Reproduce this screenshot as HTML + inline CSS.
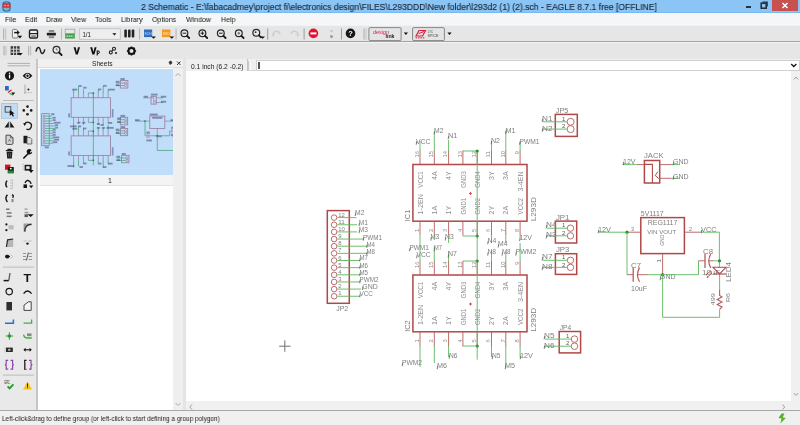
<!DOCTYPE html>
<html><head><meta charset="utf-8">
<style>
*{box-sizing:border-box;margin:0;padding:0}
html,body{width:800px;height:425px;overflow:hidden;background:#f0f0f0;font-family:"Liberation Sans",sans-serif;color:#1e1e1e}
.a{position:absolute}
#title{left:0;top:0;width:800px;height:13px;background:#8bc5f6;border-bottom:1px solid #7ab8f2}
#title .t{left:141px;top:1.6px;font-size:9.3px;color:#1c2733;white-space:nowrap;letter-spacing:0px;transform:scaleX(0.9236);transform-origin:0 0;-webkit-text-stroke:0.15px #1c2733}
#menu{left:0;top:13px;width:800px;height:12px;background:#f5f6f7}
#menu span{position:absolute;top:2px;font-size:7.8px;color:#111;white-space:nowrap;transform:scaleX(0.9);transform-origin:0 0}
.tb{left:0;width:800px;height:17px;background:#e6e6e6;border-top:1px solid #f2f2f2;border-bottom:1px solid #a4a4a4}
#lp{left:0;top:59px;width:35.5px;height:352px;background:#e9e9e9}
#lpstrip{left:35.6px;top:59px;width:2.6px;height:352px;background:#c6c6c6}
#sheets{left:38.2px;top:59px;width:147.5px;height:352px;background:#fff}
#shhead{left:38.2px;top:59px;width:147.8px;height:9px;background:#f0f0f0;border-bottom:1px solid #dcdcdc}
#shthumb{left:40px;top:69px;width:133px;height:106.6px;background:#c0ddf9;overflow:hidden}
#shlabel{left:40px;top:175px;width:133px;height:11px;background:#f4f4f4;border-bottom:1px solid #e2e2e2}
#shscroll{left:173px;top:68px;width:10px;height:343px;background:#efefef}
#gap{left:183px;top:59px;width:3px;height:352px;background:#e4e4e4}
#cmd{left:186px;top:59px;width:614px;height:12px;background:#f0f0f0;border-bottom:1px solid #d6d6d6}
#coord{left:186px;top:59px;width:61.5px;height:12px;background:#efefef;border-right:1.2px solid #c4c4c4}
#coord span{position:absolute;left:4.5px;top:3.6px;font-size:6.7px;white-space:nowrap;color:#202020}
#input{left:256px;top:60px;width:544px;height:11px;background:#fff;border:1px solid #d0d0d0}
#canvas{left:186px;top:71px;width:604.5px;height:330px;background:#fff}
#vscroll{left:790.5px;top:71px;width:10px;height:330px;background:#f0f0f0}
#hscroll{left:186px;top:401.6px;width:604px;height:9px;background:#f0f0f0}
#corner{left:790px;top:401.6px;width:10px;height:9.5px;background:#f0f0f0}
#status{left:0;top:410px;width:800px;height:15px;background:#f0f0f0;border-top:1.5px solid #a8a8a8}
#status span{position:absolute;left:2.3px;top:3.2px;font-size:7.4px;white-space:nowrap;color:#202020;transform:scaleX(0.87);transform-origin:0 0}
svg{position:absolute;left:0;top:0;overflow:visible}
.a span,span.a,svg{will-change:transform}
text{font-family:"Liberation Sans",sans-serif}
</style></head><body>
<div id="title" class="a">
 <svg width="14" height="13" style="left:1px;top:0">
  <rect x="1.5" y="1.5" width="8" height="10" rx="3" fill="#2c4a5a"/>
  <rect x="2.3" y="2.2" width="6.4" height="8.6" rx="2.4" fill="#6fb8d8"/>
  <rect x="1.6" y="3.2" width="7.8" height="4.6" fill="#e0303a"/>
  <circle cx="4" cy="5.5" r="0.8" fill="#ffb0b0"/><circle cx="7" cy="5.5" r="0.8" fill="#ffb0b0"/>
 </svg>
 <span class="a t">2 Schematic - E:\fabacadmey\project fi\electronics design\FILES\L293DDD\New folder\l293d2 (1) (2).sch - EAGLE 8.7.1 free [OFFLINE]</span>
 <div class="a" style="left:745.7px;top:5.6px;width:5.4px;height:2.2px;background:#26313b"></div>
 <svg width="10" height="10" style="left:759px;top:1px"><rect x="2.2" y="2.2" width="5" height="5" fill="none" stroke="#26313b" stroke-width="1.6"/><path d="M3.5 1.2 H8.2 V5.6" fill="none" stroke="#26313b" stroke-width="1.2"/></svg>
 <div class="a" style="left:772px;top:0;width:26px;height:11px;background:#c75050"></div>
 <svg width="12" height="11" style="left:779px;top:0"><path d="M3.5 3 L8.5 8 M8.5 3 L3.5 8" stroke="#fff" stroke-width="1.5"/></svg>
</div>
<div id="menu" class="a">
 <span style="left:4.8px">File</span><span style="left:24.7px">Edit</span><span style="left:45.7px">Draw</span><span style="left:70.5px">View</span><span style="left:95.2px">Tools</span><span style="left:120.5px">Library</span><span style="left:151.9px">Options</span><span style="left:185.6px">Window</span><span style="left:220.6px">Help</span>
</div>
<div class="a tb" style="top:25px"></div>
<div class="a tb" style="top:42px;height:17.5px;border-bottom-color:#7a7a7a"></div>

<div id="lp" class="a"></div>
<div id="lpstrip" class="a"></div>

<svg width="800" height="425" style="left:0;top:0">
<!-- ===== toolbar 1 ===== -->
<g id="tb1">
 <rect x="3" y="28.5" width="1.2" height="11.2" fill="#b4b4b4"/><rect x="5" y="28.5" width="1.2" height="11.2" fill="#c4c4c4"/>
 <!-- open -->
 <path d="M12.4 30.4 Q12.4 29.4 13.4 29.4 H16.2 L18 31.2 V37 Q18 38 17 38 H13.4 Q12.4 38 12.4 37 Z" fill="#f0f0f0" stroke="#7a7a7a" stroke-width="1"/>
 <path d="M14.2 32.6 H18" stroke="#111" stroke-width="1.5"/><path d="M17.2 30.6 L19.8 32.6 L17.2 34.6 Z" fill="#111"/>
 <path d="M17.6 35.8 H22.2 L19.9 38.6 Z" fill="#111"/>
 <!-- save -->
 <rect x="29.5" y="30" width="8" height="8" rx="1.2" fill="#f2f2f2" stroke="#1e1e1e" stroke-width="1.4"/>
 <path d="M29.5 33.6 H37.5" stroke="#1e1e1e" stroke-width="1.2"/><rect x="31.2" y="35.2" width="4.6" height="2" fill="#8a8a8a"/>
 <!-- print -->
 <rect x="48.8" y="30" width="5.4" height="2" fill="#8a8a8a"/><rect x="46.9" y="32.7" width="9" height="2.9" rx="0.6" fill="#1e1e1e"/><rect x="48.8" y="36.2" width="5.4" height="2" fill="#8a8a8a"/>
 <rect x="61" y="28.5" width="1" height="11" fill="#b8b8b8"/>
 <!-- green board -->
 <rect x="65.2" y="29.2" width="9.6" height="4.5" fill="#e8e8e8" stroke="#9a9a9a" stroke-width="0.7"/>
 <rect x="65.2" y="33.7" width="9.6" height="4.8" fill="#3fa04a"/><path d="M66.5 36.2 h7" stroke="#c8f0c8" stroke-width="1.2" stroke-dasharray="1.6 0.6"/>
 <!-- dropdown 1/1 -->
 <rect x="79.7" y="28.7" width="40.6" height="10.6" fill="#eeeeee" stroke="#bdbdbd" stroke-width="0.8"/>
 <text x="82.4" y="37" font-size="7.6" fill="#1a1a1a" textLength="8.6" lengthAdjust="spacingAndGlyphs">1/1</text>
 <path d="M112.4 33.2 H116.4 L114.4 35.6 Z" fill="#111"/>
 <!-- ||| -->
 <g fill="#222"><rect x="124.3" y="29.6" width="2.6" height="8" rx="1"/><rect x="128" y="29.6" width="2.6" height="8" rx="1"/><rect x="131.7" y="29.6" width="2.6" height="8" rx="1"/></g>
 <rect x="139" y="28.5" width="1.1" height="11" fill="#b8b8b8"/>
 <!-- SCH blue -->
 <rect x="144" y="29.5" width="8.2" height="7.6" fill="#2e6fc0"/><text x="144.6" y="34.6" font-size="3.6" fill="#cfe0ff" textLength="7" lengthAdjust="spacingAndGlyphs">SCH</text>
 <path d="M151.2 36.6 H156 L153.6 38.8 Z" fill="#111"/>
 <!-- BRD orange -->
 <rect x="162" y="29.5" width="8.4" height="7.6" fill="#f39a1e"/><text x="162.8" y="34.6" font-size="3.6" fill="#ffe6c0" textLength="7" lengthAdjust="spacingAndGlyphs">BRD</text>
 <path d="M169.4 36.6 H174.2 L171.8 38.8 Z" fill="#111"/>
 <rect x="175.5" y="28.5" width="1.1" height="11" fill="#b8b8b8"/>
 <!-- zooms -->
 <g fill="none" stroke="#262626" stroke-width="1.2">
  <circle cx="184.4" cy="33.2" r="3.4"/><circle cx="202.4" cy="33.2" r="3.4"/><circle cx="220.8" cy="33.2" r="3.4"/><circle cx="238.8" cy="33.2" r="3.4"/><circle cx="256.3" cy="32.8" r="3.4"/>
 </g>
 <g stroke="#1a1a1a" stroke-width="1.8" stroke-linecap="round">
  <path d="M187 35.8 L189.2 38"/><path d="M205 35.8 L207.2 38"/><path d="M223.4 35.8 L225.6 38"/><path d="M241.4 35.8 L243.6 38"/><path d="M258.9 35.4 L261 37.4"/>
 </g>
 <g stroke="#222" stroke-width="1"><path d="M182.6 33.2 H186.2"/><path d="M200.6 33.2 H204.2 M202.4 31.4 V35"/><path d="M219 33.2 H222.6"/></g>
 <circle cx="238.8" cy="33.2" r="1.2" fill="#777"/><circle cx="255.6" cy="32.2" r="0.9" fill="#333"/>
 <path d="M260.2 36.4 H265 L262.6 38.8 Z" fill="#111"/>
 <rect x="267.2" y="28.5" width="1" height="11" fill="#9a9a9a"/>
 <!-- undo redo -->
 <path d="M273 35.5 Q273 31 277 31.2 Q279.5 31.5 280 34" fill="none" stroke="#cfcfcf" stroke-width="1.5"/><path d="M271.4 34 L273.2 37 L275 34 Z" fill="#cfcfcf"/>
 <path d="M298 35.5 Q298 31 294 31.2 Q291.5 31.5 291 34" fill="none" stroke="#cfcfcf" stroke-width="1.5" transform="translate(0,0)"/><path d="M299.6 34 L297.8 37 L296 34 Z" fill="#cfcfcf"/>
 <rect x="303.6" y="28.5" width="1" height="11" fill="#9a9a9a"/>
 <!-- stop -->
 <circle cx="313.4" cy="33.4" r="4.8" fill="#e0142e"/><rect x="310.4" y="32.4" width="6" height="2" fill="#fff"/>
 <circle cx="331.5" cy="31" r="1.2" fill="#c4c4c4"/><circle cx="331.5" cy="36.4" r="1.5" fill="#9c9c9c"/>
 <rect x="341" y="28.5" width="1" height="11" fill="#9a9a9a"/>
 <!-- help -->
 <circle cx="350.5" cy="33.4" r="4.8" fill="#161616"/><text x="348.3" y="36.4" font-size="7.4" font-weight="bold" fill="#fff">?</text>
 <rect x="363.5" y="28.5" width="1.1" height="11.2" fill="#b4b4b4"/><rect x="365.5" y="28.5" width="1.1" height="11.2" fill="#c8c8c8"/>
 <!-- designlink button -->
 <rect x="368.9" y="27.6" width="32.2" height="13" rx="1.2" fill="#e4e4e4" stroke="#7c7c7c" stroke-width="0.9"/>
 <text x="373" y="34.2" font-size="6.2" fill="#d41e46" font-style="italic" textLength="16" lengthAdjust="spacingAndGlyphs">design</text>
 <text x="385.5" y="38.4" font-size="5.2" fill="#1e1e1e" font-weight="bold" textLength="9" lengthAdjust="spacingAndGlyphs">link</text>
 <path d="M403.8 32.6 H408 L405.9 35 Z" fill="#111"/>
 <!-- spice button -->
 <rect x="412.6" y="27.6" width="31.8" height="13" rx="1.2" fill="#e4e4e4" stroke="#7c7c7c" stroke-width="0.9"/>
 <path d="M416 36 L419 30.5 H425.5 L422.5 36 Z" fill="none" stroke="#d0223a" stroke-width="1.2"/><path d="M418.6 33.6 L424 31.5" stroke="#d0223a" stroke-width="1"/>
 <g fill="#d0223a"><rect x="415.6" y="37.3" width="1.5" height="1.1"/><rect x="418" y="37.3" width="1.5" height="1.1"/><rect x="420.4" y="37.3" width="1.5" height="1.1"/><rect x="422.8" y="37.3" width="1.5" height="1.1"/></g>
 <text x="428" y="33" font-size="3.4" fill="#444" textLength="5" lengthAdjust="spacingAndGlyphs">LTC</text>
 <text x="427.5" y="37" font-size="3.6" fill="#444" textLength="11" lengthAdjust="spacingAndGlyphs">SPICE</text>
 <path d="M447.4 32.6 H451.6 L449.5 35 Z" fill="#111"/>
</g>
<!-- ===== toolbar 2 ===== -->
<g id="tb2">
 <rect x="3.4" y="45.8" width="1.2" height="9.6" fill="#b4b4b4"/><rect x="5.4" y="45.8" width="1.2" height="9.6" fill="#c4c4c4"/>
 <!-- grid -->
 <rect x="10.6" y="46.2" width="9" height="8.8" fill="#3a3a3a"/>
 <g stroke="#e6e6e6" stroke-width="0.9"><path d="M13.6 46.2 V55 M16.6 46.2 V55 M10.6 49.2 H19.6 M10.6 52.2 H19.6"/></g>
 <path d="M17.6 53 H22.8 L20.2 55.6 Z" fill="#111"/>
 <rect x="28" y="45.8" width="1.2" height="9.6" fill="#b4b4b4"/><rect x="30" y="45.8" width="1.2" height="9.6" fill="#c4c4c4"/>
 <!-- wave -->
 <path d="M36 51.6 C37 46.2 39.6 46.4 40.4 50.4 C41.2 54.6 43.6 54.8 44.8 49.4" fill="none" stroke="#1e1e1e" stroke-width="1.4"/>
 <!-- magnifier -->
 <circle cx="56.5" cy="49.8" r="3.4" fill="none" stroke="#2a2a2a" stroke-width="1.2"/><path d="M59 52.4 L61.6 55" stroke="#111" stroke-width="1.8" stroke-linecap="round"/><path d="M56.4 48 V50 H58" stroke="#666" stroke-width="0.7" fill="none"/>
 <!-- V -->
 <path d="M73.6 47.2 H75.6 L76.8 52 L78 47.2 H80 L77.8 54.5 H75.8 Z" fill="#111"/>
 <path d="M90.2 47.2 H92.2 L93.4 52 L94.6 47.2 H96.6 L94.4 54.5 H92.4 Z" fill="#111"/>
 <path d="M97.2 50.6 V55.6" stroke="#111" stroke-width="1.1"/><path d="M97.2 51 Q99.4 50.4 99.4 52.2 Q99.4 54 97.2 53.4" fill="none" stroke="#111" stroke-width="1"/>
 <!-- link -->
 <circle cx="110.8" cy="52.4" r="1.5" fill="none" stroke="#222" stroke-width="1.1"/><circle cx="114" cy="48.8" r="1.5" fill="none" stroke="#222" stroke-width="1.1"/><path d="M111.8 51.3 L113 49.9" stroke="#222" stroke-width="1"/>
 <circle cx="116" cy="53" r="1.1" fill="#222"/>
 <!-- gear -->
 <g transform="translate(131.5,51)"><circle r="3" fill="none" stroke="#111" stroke-width="2"/>
  <g stroke="#111" stroke-width="1.6"><path d="M0 -4.6 V-3 M0 3 V4.6 M-4.6 0 H-3 M3 0 H4.6 M-3.2 -3.2 L-2.2 -2.2 M2.2 2.2 L3.2 3.2 M3.2 -3.2 L2.2 -2.2 M-2.2 2.2 L-3.2 3.2"/></g></g>
</g>
<!-- ===== left panel ===== -->
<g id="lpicons">
 <path d="M7.5 63.4 H30 M7.5 65.8 H30" stroke="#a8a8a8" stroke-width="0.9"/>
 <!-- info -->
 <circle cx="9.5" cy="75.8" r="4.6" fill="#161616"/><rect x="8.9" y="74.6" width="1.3" height="3.8" fill="#fff"/><circle cx="9.55" cy="73.2" r="0.75" fill="#fff"/>
 <!-- eye -->
 <path d="M22.6 75.8 Q27.5 69.6 32.4 75.8 Q27.5 82 22.6 75.8 Z" fill="#161616"/><circle cx="27.5" cy="75.8" r="1.7" fill="none" stroke="#fff" stroke-width="1"/>
 <!-- layers -->
 <rect x="5" y="86" width="3.8" height="4.5" fill="#2a6cc4"/><path d="M8 92.5 L11.5 90" stroke="#e0203a" stroke-width="1.4"/><path d="M9.5 93.2 L13 95.2" stroke="#27b04e" stroke-width="1.3"/><path d="M11.2 92.6 H15.2 L13.2 95 Z" fill="#111"/>
 <!-- mark -->
 <path d="M25 84.5 V94" stroke="#9a9a9a" stroke-width="0.8"/><path d="M24 92.6 H32" stroke="#a8a8a8" stroke-width="0.8" stroke-dasharray="1 0.8"/><circle cx="28.4" cy="89.4" r="1" fill="#222"/>
 <rect x="3" y="100" width="31" height="1" fill="#bcbcbc"/>
 <!-- select (highlighted) -->
 <rect x="1.5" y="103.5" width="16" height="14.8" fill="#c3dcf6" stroke="#9cc3ec" stroke-width="0.8"/>
 <rect x="5.2" y="106.6" width="5.6" height="5.6" fill="none" stroke="#5b5b5b" stroke-width="1.1"/><path d="M9.8 110 L9.8 116 L11.4 114.4 L13 116.8 L14 116 L12.6 113.8 L14.6 113.4 Z" fill="#111"/>
 <!-- move -->
 <g fill="#1a1a1a"><circle cx="27.5" cy="106.6" r="1.3"/><circle cx="27.5" cy="114.2" r="1.3"/><circle cx="23.8" cy="110.4" r="1.3"/><circle cx="31.2" cy="110.4" r="1.3"/></g>
 <!-- mirror -->
 <path d="M4.6 127.6 L8.8 121.6 V127.6 Z M14.4 127.6 L10.2 121.6 V127.6 Z" fill="#1a1a1a"/><path d="M9.5 121 V129" stroke="#aaa" stroke-width="0.6"/>
 <!-- rotate -->
 <path d="M24.6 124.2 A3.6 3.6 0 1 1 26.4 129.2" fill="none" stroke="#1a1a1a" stroke-width="1.3"/><path d="M23.2 123 L26.4 123.6 L24.4 126 Z" fill="#1a1a1a"/>
 <!-- copy -->
 <path d="M6 135.2 H10.4 L13 137.8 V143.2 Q13 144.4 11.8 144.4 H7.2 Q6 144.4 6 143.2 Z" fill="#d6d6d6" stroke="#4a4a4a" stroke-width="1"/><path d="M10.4 135.2 V137.8 H13" fill="none" stroke="#4a4a4a" stroke-width="0.8"/><path d="M8.4 141.6 L9.5 139.2 L10.6 141.6" stroke="#555" stroke-width="0.7" fill="none"/>
 <!-- paste -->
 <rect x="23.5" y="135.8" width="4" height="7.5" fill="#1a1a1a"/><path d="M27 137.5 H30 L31.8 139.3 V144 H27 Z" fill="#ddd" stroke="#555" stroke-width="0.8"/>
 <!-- delete -->
 <path d="M5.8 150.5 H13.2 M8 150.2 V149.4 H11 V150.2" stroke="#1e1e1e" stroke-width="1.1" fill="none"/><path d="M6.6 151.6 H12.4 L11.8 158.4 H7.2 Z" fill="#1e1e1e"/><path d="M8.6 153 V157 M10.4 153 V157" stroke="#777" stroke-width="0.6"/>
 <!-- wrench -->
 <path d="M23.8 158 L28.6 153.2" stroke="#111" stroke-width="1.6" stroke-linecap="round"/><path d="M28 153.8 A2.6 2.6 0 1 1 31.6 150.4 L30.2 151.6 L29.8 152.8 L31 152.6 L32.2 151.4 A2.6 2.6 0 0 1 28 153.8 Z" fill="#111"/>
 <!-- replace -->
 <rect x="5" y="164.6" width="5.4" height="5.2" fill="#d8121e"/><rect x="7.8" y="167" width="6" height="6.2" fill="#1e1e1e"/><rect x="7.8" y="170.6" width="6" height="2.6" fill="#1e8a30"/><circle cx="10.8" cy="168.6" r="0.9" fill="#fff"/>
 <!-- change (rect w arrow) -->
 <rect x="24.6" y="164.8" width="7" height="5.8" fill="#1a1a1a"/><rect x="26.2" y="166.3" width="3.4" height="2.6" fill="#f0f0f0"/><path d="M22.6 164.4 h1.4 M22.4 166.8 h1.4 M22.6 169.2 h1.4" stroke="#a8a8a8" stroke-width="0.8"/><path d="M28.6 170 H33.6 L31.1 173 Z" fill="#111"/>
 <!-- split -->
 <path d="M7 180.6 Q4.6 184 7 187.4" fill="none" stroke="#161616" stroke-width="1.5"/><path d="M10.2 180.2 H13 M10.2 183 H13 M10.2 185.8 H13 M10.2 188.4 H13" stroke="#b6b6b6" stroke-width="0.9"/><path d="M12.6 180 V188.6" stroke="#c4c4c4" stroke-width="0.8"/>
 <!-- swap -->
 <rect x="23.5" y="184.4" width="3.5" height="3.6" fill="#161616"/><path d="M25 183 Q26.5 179.2 29.6 181.2 Q30.8 182 31 184" fill="none" stroke="#161616" stroke-width="1.3"/><path d="M29 185.6 H33.4 L31.2 188.2 Z" fill="#161616"/>
 <!-- row 198 -->
 <path d="M7.4 194.8 Q4.4 198.4 7.4 202" fill="none" stroke="#161616" stroke-width="1.5"/><path d="M12 194.6 Q14.2 195.8 12.6 197.8" fill="none" stroke="#161616" stroke-width="1.4"/><rect x="11.5" y="199" width="2" height="3.2" fill="#888"/>
 <!-- text icons 213 -->
 <g fill="#777"><rect x="6" y="208.5" width="3.6" height="1.5"/><rect x="6.6" y="212.2" width="5" height="1.5"/><rect x="6.6" y="215.6" width="5" height="1.5"/></g>
 <g fill="#999"><rect x="24.5" y="208.5" width="3" height="1.3"/><rect x="24.5" y="211.8" width="4" height="1.6"/></g><rect x="24.5" y="214.3" width="3.4" height="2.8" fill="#555"/><path d="M27.5 214.2 H33.8 L30.6 217 Z" fill="#111"/>
 <!-- row 227.5 -->
 <circle cx="6.4" cy="224.4" r="1.1" fill="#161616"/><circle cx="6.4" cy="230.2" r="1.1" fill="#161616"/><rect x="8.6" y="225.2" width="5" height="4.2" fill="#bcbcbc"/>
 <path d="M23.6 223.6 H31.5 V225.4 A5 5 0 0 0 25.6 231.6 H23.6 Z" fill="#9a9a9a"/><path d="M25 231.6 A6 6 0 0 1 31.5 224.4" fill="none" stroke="#2a2a2a" stroke-width="1.2"/>
 <!-- row 242 -->
 <path d="M6.4 247 L7.4 239.8 L13.2 239 V247 Z" fill="#b6b6b6"/><path d="M6.4 247 L7.6 239.8 L13.2 239" fill="none" stroke="#2a2a2a" stroke-width="1.2"/>
 <path d="M23.6 241 H26.5 M28.4 241 H31.5" stroke="#b0b0b0" stroke-width="0.8"/><circle cx="27.5" cy="243.6" r="1.2" fill="#161616"/>
 <!-- row 257 -->
 <circle cx="6.8" cy="256.6" r="1.8" fill="#161616"/><path d="M7.6 254.2 L10.2 256.6 L7.6 259" fill="#161616"/><path d="M10.6 254.6 L12.6 256.6 L10.6 258.6" fill="none" stroke="#bbb" stroke-width="1"/>
 <path d="M23 253.5 H26 M23 256.5 H26 M23 259.5 H26 M28.6 253.5 H32 M28.6 256.5 H32 M28.6 259.5 H32" stroke="#8a8a8a" stroke-width="0.9"/><path d="M26.4 260.5 L28.4 252.6" stroke="#333" stroke-width="0.8"/>
 <rect x="3" y="266.6" width="31" height="1" fill="#bcbcbc"/>
 <!-- line -->
 <path d="M3.6 280.6 H8.8" stroke="#161616" stroke-width="1.5"/><path d="M8.8 280.4 L10 273" stroke="#5a5a5a" stroke-width="1.3"/>
 <!-- T -->
 <text x="23.4" y="281.6" font-size="10.6" font-family="Liberation Serif" font-weight="bold" fill="#161616" textLength="7.6" lengthAdjust="spacingAndGlyphs">T</text>
 <!-- circle -->
 <circle cx="9.2" cy="291.6" r="3.2" fill="none" stroke="#161616" stroke-width="1.2"/>
 <!-- arc -->
 <path d="M23.6 293.6 Q27.4 288.4 31.6 293.6" fill="none" stroke="#161616" stroke-width="1.3"/>
 <!-- rect -->
 <rect x="6.4" y="302" width="5.6" height="8.4" fill="#2e2e2e"/>
 <!-- polygon -->
 <path d="M24 310.4 V305.2 L28.4 301.8 H31.2 V310.4 Z" fill="#f4f4f4" stroke="#333" stroke-width="0.9"/>
 <!-- bus (blue) -->
 <path d="M5 323.2 H13.4 V319.4" fill="none" stroke="#2870c8" stroke-width="1.5"/>
 <!-- net (green) -->
 <path d="M23.6 323.2 H31.6 V319.4" fill="none" stroke="#40b040" stroke-width="1.3"/>
 <!-- junction -->
 <path d="M5.6 336 H13.2 M9.4 332.2 V339.8" stroke="#38a838" stroke-width="1"/><circle cx="9.4" cy="336" r="1.8" fill="#1e9a2e"/>
 <!-- label -->
 <path d="M23.6 334.6 Q24 338 27.6 338 H31.8" fill="none" stroke="#40b040" stroke-width="1.3"/><rect x="27" y="333.4" width="4.5" height="2.8" fill="#888"/>
 <!-- name/value row 350 -->
 <rect x="6" y="347.6" width="6.8" height="4.4" fill="#2a2a2a"/><path d="M5 347 V352.5" stroke="#bbb" stroke-width="0.7"/><rect x="8.2" y="348.8" width="2.2" height="2" fill="#bbb"/>
 <path d="M24.6 349.8 H30.6" stroke="#161616" stroke-width="1.1"/><path d="M23.4 349.8 L25.6 347.8 V351.8 Z M31.8 349.8 L29.6 347.8 V351.8 Z" fill="#161616"/>
 <!-- purple brackets -->
 <path d="M8.2 360.4 H6.2 V364 L5.4 364.8 L6.2 365.6 V369.2 H8.2" fill="none" stroke="#8e44ad" stroke-width="1.2"/><path d="M10.6 360.4 H12.6 V364 L13.4 364.8 L12.6 365.6 V369.2 H10.6" fill="none" stroke="#8e44ad" stroke-width="1.2"/>
 <path d="M26.6 360.4 H24.6 V369.2 H26.6" fill="none" stroke="#222" stroke-width="1.1"/><path d="M29 360.4 H31 V364 L31.8 364.8 L31 365.6 V369.2 H29" fill="none" stroke="#8e44ad" stroke-width="1.2"/><path d="M25.2 362 V368" stroke="#8e44ad" stroke-width="0.9"/>
 <rect x="3" y="374.6" width="31" height="1" fill="#bcbcbc"/>
 <!-- ERC -->
 <text x="4.5" y="384.2" font-size="4.6" fill="#333" textLength="5.5" lengthAdjust="spacingAndGlyphs">ERC</text>
 <path d="M7.6 386.4 L9.6 388.4 L13.4 384.4" fill="none" stroke="#1e9a2e" stroke-width="1.8"/>
 <!-- warning -->
 <path d="M27.5 381.2 L32 389.4 H23 Z" fill="#f5c518"/><rect x="27" y="383.4" width="1" height="3.2" fill="#222"/><rect x="27" y="387.2" width="1" height="1" fill="#222"/>
</g>
</svg>

<div id="sheets" class="a"></div>
<div id="shhead" class="a"><span class="a" style="left:53.5px;top:0.5px;font-size:6.6px;color:#222">Sheets</span>
 <svg width="20" height="9" style="left:128px;top:0"><path d="M2.5 3 l2.5 -1.5 l1.5 2.5 l-2.5 2 z" fill="#333"/><path d="M11 2.5 l3.5 3.5 M14.5 2.5 l-3.5 3.5" stroke="#333" stroke-width="1"/></svg>
</div>
<div id="shthumb" class="a"><svg width="133" height="106" style="left:-40px;top:-69px;overflow:visible"><rect x="71.15" y="97.75" width="39.36" height="19.56" stroke="#9b7d9e" stroke-width="0.828" fill="none"/>
<line x1="73.6" y1="97.75" x2="73.6" y2="92.92" stroke="#9b7d9e" stroke-width="0.7"/>
<line x1="73.6" y1="117.31" x2="73.6" y2="122.32" stroke="#9b7d9e" stroke-width="0.7"/>
<line x1="78.53" y1="97.75" x2="78.53" y2="92.92" stroke="#9b7d9e" stroke-width="0.7"/>
<line x1="78.53" y1="117.31" x2="78.53" y2="122.32" stroke="#9b7d9e" stroke-width="0.7"/>
<line x1="83.47" y1="97.75" x2="83.47" y2="92.92" stroke="#9b7d9e" stroke-width="0.7"/>
<line x1="83.47" y1="117.31" x2="83.47" y2="122.32" stroke="#9b7d9e" stroke-width="0.7"/>
<line x1="88.4" y1="97.75" x2="88.4" y2="92.92" stroke="#9b7d9e" stroke-width="0.7"/>
<line x1="88.4" y1="117.31" x2="88.4" y2="122.32" stroke="#9b7d9e" stroke-width="0.7"/>
<line x1="93.33" y1="97.75" x2="93.33" y2="92.92" stroke="#9b7d9e" stroke-width="0.7"/>
<line x1="93.33" y1="117.31" x2="93.33" y2="122.32" stroke="#9b7d9e" stroke-width="0.7"/>
<line x1="98.27" y1="97.75" x2="98.27" y2="92.92" stroke="#9b7d9e" stroke-width="0.7"/>
<line x1="98.27" y1="117.31" x2="98.27" y2="122.32" stroke="#9b7d9e" stroke-width="0.7"/>
<line x1="103.2" y1="97.75" x2="103.2" y2="92.92" stroke="#9b7d9e" stroke-width="0.7"/>
<line x1="103.2" y1="117.31" x2="103.2" y2="122.32" stroke="#9b7d9e" stroke-width="0.7"/>
<line x1="108.13" y1="97.75" x2="108.13" y2="92.92" stroke="#9b7d9e" stroke-width="0.7"/>
<line x1="108.13" y1="117.31" x2="108.13" y2="122.32" stroke="#9b7d9e" stroke-width="0.7"/>
<rect x="68.19" y="113.35" width="1.79" height="3.97" fill="#3c3468" opacity="0.45"/>
<rect x="111.81" y="109.03" width="1.64" height="8.28" fill="#3c3468" opacity="0.45"/>
<rect x="71.15" y="135.88" width="39.36" height="19.6" stroke="#9b7d9e" stroke-width="0.828" fill="none"/>
<line x1="73.6" y1="135.88" x2="73.6" y2="131.04" stroke="#9b7d9e" stroke-width="0.7"/>
<line x1="73.6" y1="155.47" x2="73.6" y2="160.47" stroke="#9b7d9e" stroke-width="0.7"/>
<line x1="78.53" y1="135.88" x2="78.53" y2="131.04" stroke="#9b7d9e" stroke-width="0.7"/>
<line x1="78.53" y1="155.47" x2="78.53" y2="160.47" stroke="#9b7d9e" stroke-width="0.7"/>
<line x1="83.47" y1="135.88" x2="83.47" y2="131.04" stroke="#9b7d9e" stroke-width="0.7"/>
<line x1="83.47" y1="155.47" x2="83.47" y2="160.47" stroke="#9b7d9e" stroke-width="0.7"/>
<line x1="88.4" y1="135.88" x2="88.4" y2="131.04" stroke="#9b7d9e" stroke-width="0.7"/>
<line x1="88.4" y1="155.47" x2="88.4" y2="160.47" stroke="#9b7d9e" stroke-width="0.7"/>
<line x1="93.33" y1="135.88" x2="93.33" y2="131.04" stroke="#9b7d9e" stroke-width="0.7"/>
<line x1="93.33" y1="155.47" x2="93.33" y2="160.47" stroke="#9b7d9e" stroke-width="0.7"/>
<line x1="98.27" y1="135.88" x2="98.27" y2="131.04" stroke="#9b7d9e" stroke-width="0.7"/>
<line x1="98.27" y1="155.47" x2="98.27" y2="160.47" stroke="#9b7d9e" stroke-width="0.7"/>
<line x1="103.2" y1="135.88" x2="103.2" y2="131.04" stroke="#9b7d9e" stroke-width="0.7"/>
<line x1="103.2" y1="155.47" x2="103.2" y2="160.47" stroke="#9b7d9e" stroke-width="0.7"/>
<line x1="108.13" y1="135.88" x2="108.13" y2="131.04" stroke="#9b7d9e" stroke-width="0.7"/>
<line x1="108.13" y1="155.47" x2="108.13" y2="160.47" stroke="#9b7d9e" stroke-width="0.7"/>
<rect x="68.19" y="151.5" width="1.79" height="3.97" fill="#3c3468" opacity="0.45"/>
<rect x="111.81" y="147.19" width="1.64" height="8.28" fill="#3c3468" opacity="0.45"/>
<line x1="73.6" y1="93.09" x2="73.6" y2="89.64" stroke="#3f9f73" stroke-width="0.7"/>
<rect x="72.22" y="88.72" width="5.04" height="1.79" fill="#3c3468" opacity="0.5"/>
<line x1="78.53" y1="93.09" x2="78.53" y2="86.47" stroke="#3f9f73" stroke-width="0.7"/>
<rect x="78.43" y="85.09" width="3.28" height="1.79" fill="#3c3468" opacity="0.5"/>
<line x1="83.47" y1="93.09" x2="83.47" y2="89.3" stroke="#3f9f73" stroke-width="0.7"/>
<rect x="83.26" y="86.82" width="3.28" height="1.79" fill="#3c3468" opacity="0.5"/>
<polyline points="88.4,93.09 93.33,93.09" stroke="#3f9f73" stroke-width="0.7" fill="none"/>
<line x1="98.27" y1="93.09" x2="98.27" y2="89.64" stroke="#3f9f73" stroke-width="0.7"/>
<rect x="98.09" y="88.54" width="3.1" height="1.79" fill="#3c3468" opacity="0.5"/>
<line x1="103.2" y1="93.09" x2="103.2" y2="86.09" stroke="#3f9f73" stroke-width="0.7"/>
<rect x="103.1" y="84.92" width="3.45" height="1.79" fill="#3c3468" opacity="0.5"/>
<line x1="108.13" y1="93.09" x2="108.13" y2="89.99" stroke="#3f9f73" stroke-width="0.7"/>
<rect x="107.93" y="88.72" width="6.9" height="1.79" fill="#3c3468" opacity="0.5"/>
<line x1="93.33" y1="93.09" x2="93.33" y2="165.1" stroke="#3f9f73" stroke-width="0.7"/>
<circle cx="93.33" cy="93.09" r="0.9" fill="#237a4f"/>
<circle cx="93.33" cy="122.42" r="0.9" fill="#237a4f"/>
<circle cx="93.33" cy="131.04" r="0.9" fill="#237a4f"/>
<circle cx="93.33" cy="160.37" r="0.9" fill="#237a4f"/>
<line x1="88.4" y1="122.42" x2="93.33" y2="122.42" stroke="#3f9f73" stroke-width="0.7"/>
<line x1="88.4" y1="131.04" x2="93.33" y2="131.04" stroke="#3f9f73" stroke-width="0.7"/>
<line x1="88.4" y1="160.37" x2="93.33" y2="160.37" stroke="#3f9f73" stroke-width="0.7"/>
<line x1="73.6" y1="122.42" x2="73.6" y2="131.04" stroke="#3f9f73" stroke-width="0.7"/>
<line x1="78.53" y1="122.42" x2="78.53" y2="123.8" stroke="#3f9f73" stroke-width="0.7"/>
<line x1="78.53" y1="125.87" x2="78.53" y2="131.04" stroke="#3f9f73" stroke-width="0.7"/>
<line x1="83.47" y1="122.42" x2="83.47" y2="124.83" stroke="#3f9f73" stroke-width="0.7"/>
<line x1="83.47" y1="127.59" x2="83.47" y2="131.04" stroke="#3f9f73" stroke-width="0.7"/>
<line x1="98.27" y1="122.42" x2="98.27" y2="124.83" stroke="#3f9f73" stroke-width="0.7"/>
<line x1="98.27" y1="127.25" x2="98.27" y2="131.04" stroke="#3f9f73" stroke-width="0.7"/>
<line x1="103.2" y1="122.42" x2="103.2" y2="124.83" stroke="#3f9f73" stroke-width="0.7"/>
<line x1="103.2" y1="127.94" x2="103.2" y2="131.04" stroke="#3f9f73" stroke-width="0.7"/>
<line x1="108.13" y1="122.42" x2="108.13" y2="123.11" stroke="#3f9f73" stroke-width="0.7"/>
<line x1="108.13" y1="124.83" x2="108.13" y2="131.04" stroke="#3f9f73" stroke-width="0.7"/>
<rect x="69.94" y="125.46" width="6.69" height="1.79" fill="#3c3468" opacity="0.5"/>
<rect x="72.39" y="127.87" width="4.86" height="1.79" fill="#3c3468" opacity="0.5"/>
<rect x="77.26" y="121.8" width="3.04" height="1.79" fill="#3c3468" opacity="0.5"/>
<rect x="78.43" y="125.46" width="2.76" height="1.79" fill="#3c3468" opacity="0.5"/>
<rect x="82.22" y="121.8" width="3.04" height="1.79" fill="#3c3468" opacity="0.5"/>
<rect x="83.26" y="127.63" width="3.07" height="1.79" fill="#3c3468" opacity="0.5"/>
<rect x="96.89" y="123.08" width="3.04" height="1.79" fill="#3c3468" opacity="0.5"/>
<rect x="96.89" y="126.98" width="2.93" height="1.79" fill="#3c3468" opacity="0.5"/>
<rect x="100.51" y="124.18" width="3.28" height="1.79" fill="#3c3468" opacity="0.5"/>
<rect x="101.86" y="126.98" width="3.0" height="1.79" fill="#3c3468" opacity="0.5"/>
<rect x="107.89" y="122.01" width="4.31" height="1.79" fill="#3c3468" opacity="0.5"/>
<rect x="106.58" y="126.98" width="7.14" height="1.79" fill="#3c3468" opacity="0.5"/>
<line x1="73.6" y1="160.37" x2="73.6" y2="167.62" stroke="#3f9f73" stroke-width="0.7"/>
<rect x="67.39" y="165.14" width="6.9" height="1.79" fill="#3c3468" opacity="0.5"/>
<line x1="78.53" y1="160.37" x2="78.53" y2="166.23" stroke="#3f9f73" stroke-width="0.7"/>
<rect x="79.46" y="166.17" width="3.45" height="1.79" fill="#3c3468" opacity="0.5"/>
<line x1="83.47" y1="160.37" x2="83.47" y2="164.16" stroke="#3f9f73" stroke-width="0.7"/>
<rect x="83.61" y="162.55" width="2.93" height="1.79" fill="#3c3468" opacity="0.5"/>
<line x1="98.27" y1="160.37" x2="98.27" y2="164.16" stroke="#3f9f73" stroke-width="0.7"/>
<rect x="98.44" y="162.72" width="2.93" height="1.79" fill="#3c3468" opacity="0.5"/>
<line x1="103.2" y1="160.37" x2="103.2" y2="167.62" stroke="#3f9f73" stroke-width="0.7"/>
<rect x="102.92" y="166.17" width="3.45" height="1.79" fill="#3c3468" opacity="0.5"/>
<line x1="108.13" y1="160.37" x2="108.13" y2="164.16" stroke="#3f9f73" stroke-width="0.7"/>
<rect x="108.1" y="162.72" width="4.48" height="1.79" fill="#3c3468" opacity="0.5"/>
<rect x="41.62" y="113.66" width="7.59" height="31.98" stroke="#9b7d9e" stroke-width="0.828" fill="none"/>
<circle cx="43.96" cy="116.07" r="0.97" stroke="#9b7d9e" stroke-width="0.6831" fill="none"/>
<line x1="45.03" y1="116.07" x2="51.66" y2="116.07" stroke="#3f9f73" stroke-width="0.7"/>
<rect x="51.17" y="113.32" width="3.24" height="1.79" fill="#3c3468" opacity="0.5"/>
<circle cx="43.96" cy="118.54" r="0.97" stroke="#9b7d9e" stroke-width="0.6831" fill="none"/>
<line x1="45.03" y1="118.54" x2="51.86" y2="118.54" stroke="#3f9f73" stroke-width="0.7"/>
<rect x="52.49" y="116.83" width="3.17" height="1.79" fill="#3c3468" opacity="0.5"/>
<circle cx="43.96" cy="121.01" r="0.97" stroke="#9b7d9e" stroke-width="0.6831" fill="none"/>
<line x1="45.03" y1="121.01" x2="51.86" y2="121.01" stroke="#3f9f73" stroke-width="0.7"/>
<rect x="52.49" y="119.25" width="3.17" height="1.79" fill="#3c3468" opacity="0.5"/>
<circle cx="43.96" cy="123.47" r="0.97" stroke="#9b7d9e" stroke-width="0.6831" fill="none"/>
<line x1="45.03" y1="123.47" x2="54.18" y2="123.47" stroke="#3f9f73" stroke-width="0.7"/>
<rect x="53.93" y="121.84" width="6.55" height="1.79" fill="#3c3468" opacity="0.5"/>
<circle cx="43.96" cy="125.94" r="0.97" stroke="#9b7d9e" stroke-width="0.6831" fill="none"/>
<line x1="45.03" y1="125.94" x2="55.31" y2="125.94" stroke="#3f9f73" stroke-width="0.7"/>
<rect x="55.14" y="124.29" width="2.93" height="1.79" fill="#3c3468" opacity="0.5"/>
<circle cx="43.96" cy="128.41" r="0.97" stroke="#9b7d9e" stroke-width="0.6831" fill="none"/>
<line x1="45.03" y1="128.41" x2="55.31" y2="128.41" stroke="#3f9f73" stroke-width="0.7"/>
<rect x="55.14" y="126.77" width="2.93" height="1.79" fill="#3c3468" opacity="0.5"/>
<circle cx="43.96" cy="130.87" r="0.97" stroke="#9b7d9e" stroke-width="0.6831" fill="none"/>
<line x1="45.03" y1="130.87" x2="52.97" y2="130.87" stroke="#3f9f73" stroke-width="0.7"/>
<rect x="52.73" y="128.98" width="2.93" height="1.79" fill="#3c3468" opacity="0.5"/>
<circle cx="43.96" cy="133.34" r="0.97" stroke="#9b7d9e" stroke-width="0.6831" fill="none"/>
<line x1="45.03" y1="133.34" x2="52.97" y2="133.34" stroke="#3f9f73" stroke-width="0.7"/>
<rect x="52.73" y="131.53" width="2.93" height="1.79" fill="#3c3468" opacity="0.5"/>
<circle cx="43.96" cy="135.81" r="0.97" stroke="#9b7d9e" stroke-width="0.6831" fill="none"/>
<line x1="45.03" y1="135.81" x2="52.97" y2="135.81" stroke="#3f9f73" stroke-width="0.7"/>
<rect x="52.73" y="134.02" width="2.93" height="1.79" fill="#3c3468" opacity="0.5"/>
<circle cx="43.96" cy="138.27" r="0.97" stroke="#9b7d9e" stroke-width="0.6831" fill="none"/>
<line x1="45.03" y1="138.27" x2="52.97" y2="138.27" stroke="#3f9f73" stroke-width="0.7"/>
<rect x="52.73" y="136.5" width="6.55" height="1.79" fill="#3c3468" opacity="0.5"/>
<circle cx="43.96" cy="140.74" r="0.97" stroke="#9b7d9e" stroke-width="0.6831" fill="none"/>
<line x1="45.03" y1="140.74" x2="53.24" y2="140.74" stroke="#3f9f73" stroke-width="0.7"/>
<rect x="53.69" y="138.85" width="5.35" height="1.79" fill="#3c3468" opacity="0.5"/>
<circle cx="43.96" cy="143.21" r="0.97" stroke="#9b7d9e" stroke-width="0.6831" fill="none"/>
<line x1="45.03" y1="143.21" x2="52.97" y2="143.21" stroke="#3f9f73" stroke-width="0.7"/>
<rect x="52.73" y="141.33" width="4.62" height="1.79" fill="#3c3468" opacity="0.5"/>
<rect x="44.69" y="146.45" width="4.14" height="1.84" fill="#3c3468" opacity="0.5"/>
<rect x="120.28" y="80.47" width="7.59" height="7.59" stroke="#9b7d9e" stroke-width="0.828" fill="none"/>
<circle cx="125.56" cy="83.02" r="1.21" stroke="#9b7d9e" stroke-width="0.6831" fill="none"/>
<circle cx="125.56" cy="85.54" r="1.21" stroke="#9b7d9e" stroke-width="0.6831" fill="none"/>
<line x1="116.03" y1="83.02" x2="124.35" y2="83.02" stroke="#3f9f73" stroke-width="0.7"/>
<line x1="116.03" y1="85.54" x2="124.35" y2="85.54" stroke="#3f9f73" stroke-width="0.7"/>
<rect x="115.69" y="80.89" width="3.62" height="1.79" fill="#3c3468" opacity="0.5"/>
<rect x="115.69" y="84.27" width="3.62" height="1.79" fill="#3c3468" opacity="0.5"/>
<rect x="120.45" y="78.11" width="4.31" height="1.84" fill="#3c3468" opacity="0.5"/>
<rect x="120.31" y="117.28" width="7.35" height="7.56" stroke="#9b7d9e" stroke-width="0.828" fill="none"/>
<circle cx="125.52" cy="119.73" r="1.1" stroke="#9b7d9e" stroke-width="0.6831" fill="none"/>
<circle cx="125.52" cy="122.35" r="1.1" stroke="#9b7d9e" stroke-width="0.6831" fill="none"/>
<line x1="117.41" y1="119.73" x2="124.42" y2="119.73" stroke="#3f9f73" stroke-width="0.7"/>
<line x1="117.41" y1="122.35" x2="124.42" y2="122.35" stroke="#3f9f73" stroke-width="0.7"/>
<rect x="117.07" y="117.59" width="3.62" height="1.79" fill="#3c3468" opacity="0.5"/>
<rect x="117.07" y="121.08" width="3.62" height="1.79" fill="#3c3468" opacity="0.5"/>
<rect x="120.49" y="114.92" width="4.66" height="1.84" fill="#3c3468" opacity="0.5"/>
<rect x="120.31" y="128.53" width="7.35" height="7.14" stroke="#9b7d9e" stroke-width="0.828" fill="none"/>
<circle cx="125.52" cy="130.8" r="1.1" stroke="#9b7d9e" stroke-width="0.6831" fill="none"/>
<circle cx="125.52" cy="133.25" r="1.1" stroke="#9b7d9e" stroke-width="0.6831" fill="none"/>
<line x1="116.03" y1="130.8" x2="124.42" y2="130.8" stroke="#3f9f73" stroke-width="0.7"/>
<line x1="116.03" y1="133.25" x2="124.42" y2="133.25" stroke="#3f9f73" stroke-width="0.7"/>
<rect x="115.69" y="128.67" width="3.62" height="1.79" fill="#3c3468" opacity="0.5"/>
<rect x="115.69" y="131.98" width="3.62" height="1.79" fill="#3c3468" opacity="0.5"/>
<rect x="120.49" y="126.17" width="4.66" height="1.84" fill="#3c3468" opacity="0.5"/>
<rect x="121.62" y="155.37" width="7.38" height="7.38" stroke="#9b7d9e" stroke-width="0.828" fill="none"/>
<circle cx="126.9" cy="157.99" r="1.14" stroke="#9b7d9e" stroke-width="0.6831" fill="none"/>
<circle cx="126.9" cy="160.44" r="1.14" stroke="#9b7d9e" stroke-width="0.6831" fill="none"/>
<line x1="116.72" y1="157.99" x2="125.76" y2="157.99" stroke="#3f9f73" stroke-width="0.7"/>
<line x1="116.72" y1="160.44" x2="125.76" y2="160.44" stroke="#3f9f73" stroke-width="0.7"/>
<rect x="116.38" y="155.85" width="3.62" height="1.79" fill="#3c3468" opacity="0.5"/>
<rect x="116.38" y="159.17" width="3.62" height="1.79" fill="#3c3468" opacity="0.5"/>
<rect x="121.8" y="153.01" width="3.97" height="1.84" fill="#3c3468" opacity="0.5"/>
<rect x="151.02" y="96.37" width="5.28" height="7.76" stroke="#9b7d9e" stroke-width="0.828" fill="none"/>
<polyline points="151.02,97.72 153.78,97.72 153.78,104.13" stroke="#9b7d9e" stroke-width="0.7" fill="none"/>
<polyline points="155.71,100.17 154.74,101.55 155.88,102.51" stroke="#9b7d9e" stroke-width="0.7" fill="none"/>
<line x1="148.4" y1="97.79" x2="151.02" y2="97.79" stroke="#9b7d9e" stroke-width="0.7"/>
<line x1="143.53" y1="97.79" x2="148.4" y2="97.79" stroke="#3f9f73" stroke-width="0.7"/>
<rect x="143.63" y="95.79" width="4.31" height="1.79" fill="#3c3468" opacity="0.5"/>
<line x1="156.3" y1="97.79" x2="160.44" y2="97.79" stroke="#9b7d9e" stroke-width="0.7"/>
<line x1="160.44" y1="97.79" x2="163.3" y2="97.79" stroke="#3f9f73" stroke-width="0.7"/>
<rect x="160.88" y="95.79" width="5.35" height="1.79" fill="#3c3468" opacity="0.5"/>
<line x1="155.88" y1="102.51" x2="160.44" y2="102.51" stroke="#9b7d9e" stroke-width="0.7"/>
<line x1="160.44" y1="102.51" x2="163.3" y2="102.51" stroke="#3f9f73" stroke-width="0.7"/>
<rect x="160.88" y="100.79" width="5.35" height="1.79" fill="#3c3468" opacity="0.5"/>
<rect x="150.88" y="93.67" width="6.73" height="1.84" fill="#3c3468" opacity="0.5"/>
<rect x="149.78" y="116.07" width="15.04" height="12.42" stroke="#9b7d9e" stroke-width="0.828" fill="none"/>
<rect x="149.78" y="113.61" width="7.87" height="1.84" fill="#3c3468" opacity="0.5"/>
<rect x="152.16" y="116.89" width="10.25" height="1.84" fill="#3c3468" opacity="0.5"/>
<line x1="145.36" y1="121.11" x2="149.78" y2="121.11" stroke="#9b7d9e" stroke-width="0.7"/>
<line x1="135.35" y1="121.11" x2="145.36" y2="121.11" stroke="#3f9f73" stroke-width="0.7"/>
<circle cx="145.01" cy="121.11" r="0.9" fill="#237a4f"/>
<rect x="135.01" y="119.25" width="4.48" height="1.79" fill="#3c3468" opacity="0.5"/>
<line x1="164.82" y1="121.11" x2="170.3" y2="121.11" stroke="#9b7d9e" stroke-width="0.7"/>
<line x1="170.3" y1="121.11" x2="176.89" y2="121.11" stroke="#3f9f73" stroke-width="0.7"/>
<rect x="170.54" y="119.25" width="5.35" height="1.79" fill="#3c3468" opacity="0.5"/>
<line x1="157.3" y1="128.49" x2="157.3" y2="135.77" stroke="#9b7d9e" stroke-width="0.7"/>
<line x1="145.01" y1="121.11" x2="145.01" y2="135.77" stroke="#3f9f73" stroke-width="0.7"/>
<line x1="145.01" y1="135.77" x2="147.15" y2="135.77" stroke="#9b7d9e" stroke-width="0.7"/>
<line x1="147.15" y1="133.32" x2="147.15" y2="138.22" stroke="#9b7d9e" stroke-width="0.7176"/>
<path d="M149.33,133.32 Q147.95,135.77 149.33,138.22" stroke="#9b7d9e" stroke-width="0.7" fill="none"/>
<line x1="148.46" y1="135.77" x2="152.26" y2="135.77" stroke="#9b7d9e" stroke-width="0.7"/>
<line x1="152.26" y1="135.77" x2="157.3" y2="135.77" stroke="#3f9f73" stroke-width="0.7"/>
<rect x="146.39" y="131.62" width="3.45" height="1.84" fill="#3c3468" opacity="0.5"/>
<rect x="146.39" y="139.55" width="5.52" height="1.84" fill="#3c3468" opacity="0.5"/>
<circle cx="157.3" cy="135.77" r="0.9" fill="#237a4f"/>
<rect x="156.4" y="135.46" width="5.35" height="1.79" fill="#3c3468" opacity="0.5"/>
<line x1="157.3" y1="135.77" x2="157.3" y2="150.47" stroke="#3f9f73" stroke-width="0.7"/>
<line x1="157.3" y1="150.47" x2="176.96" y2="150.47" stroke="#3f9f73" stroke-width="0.7"/>
<line x1="176.96" y1="150.47" x2="176.96" y2="147.74" stroke="#3f9f73" stroke-width="0.7"/>
<polyline points="176.96,140.91 176.96,142.91 177.79,143.46 176.13,144.33 177.79,145.19 176.13,146.05 177.79,146.91 176.96,147.74" stroke="#9b7d9e" stroke-width="0.7" fill="none"/>
<line x1="176.96" y1="135.53" x2="176.96" y2="140.91" stroke="#3f9f73" stroke-width="0.7"/>
<line x1="157.3" y1="135.77" x2="169.68" y2="135.77" stroke="#3f9f73" stroke-width="0.7"/>
<line x1="169.68" y1="135.77" x2="169.68" y2="130.98" stroke="#3f9f73" stroke-width="0.7"/>
<line x1="169.68" y1="130.98" x2="171.93" y2="130.98" stroke="#9b7d9e" stroke-width="0.7"/>
<line x1="171.93" y1="128.63" x2="171.93" y2="133.46" stroke="#9b7d9e" stroke-width="0.7176"/>
<path d="M173.93,128.63 Q172.55,130.98 173.93,133.46" stroke="#9b7d9e" stroke-width="0.7" fill="none"/>
<line x1="173.17" y1="130.98" x2="174.69" y2="130.98" stroke="#9b7d9e" stroke-width="0.7"/>
<line x1="174.69" y1="130.98" x2="176.96" y2="130.98" stroke="#3f9f73" stroke-width="0.7"/>
<rect x="171.23" y="126.79" width="3.45" height="1.84" fill="#3c3468" opacity="0.5"/>
<rect x="170.89" y="134.04" width="6.21" height="1.84" fill="#3c3468" opacity="0.5"/>
<line x1="176.89" y1="121.11" x2="176.89" y2="133.22" stroke="#3f9f73" stroke-width="0.7"/>
<circle cx="176.93" cy="130.98" r="0.9" fill="#237a4f"/>
<path d="M174.69,133.22 L179.17,133.22 L176.96,135.53 Z" stroke="#9b7d9e" stroke-width="0.7" fill="none"/>
<line x1="174.69" y1="135.53" x2="179.17" y2="135.53" stroke="#9b7d9e" stroke-width="0.7"/>
<line x1="174.0" y1="134.32" x2="172.27" y2="135.88" stroke="#9b7d9e" stroke-width="0.7"/>
<line x1="174.34" y1="135.19" x2="172.62" y2="136.74" stroke="#9b7d9e" stroke-width="0.7"/>
<path d="M172.1,136.05 l2,-0.5 l-1,-1.5 Z M172.44,136.91 l2,-0.5 l-1,-1.5 Z" fill="#9b7d9e"/>
<rect x="179.25" y="131.39" width="1.64" height="6.9" fill="#3c3468" opacity="0.45"/></svg></div>
<div id="shlabel" class="a"><span class="a" style="left:68px;top:1.5px;font-size:7px;color:#222">1</span></div>
<div id="shscroll" class="a">
 <svg width="10" height="343"><path d="M2.5 8 L5 5.5 L7.5 8" stroke="#a8a8a8" stroke-width="1" fill="none"/><path d="M2.5 335 L5 337.5 L7.5 335" stroke="#a8a8a8" stroke-width="1" fill="none"/></svg>
</div>
<div id="gap" class="a"></div>
<div id="cmd" class="a"></div>
<div id="coord" class="a"><span>0.1 inch (6.2 -0.2)</span></div>
<div class="a" style="left:248px;top:61px;width:1px;height:9px;background:#c8c8c8"></div>
<div class="a" style="left:250px;top:61px;width:1px;height:9px;background:#fafafa"></div>
<div id="input" class="a"></div>
<div class="a" style="left:258.3px;top:62px;width:1.3px;height:7.4px;background:#555"></div>
<svg width="10" height="12" style="left:789px;top:59px"><path d="M2.2 5 L4.8 7.5 L7.4 5" stroke="#111" stroke-width="1.3" fill="none"/></svg>
<div id="canvas" class="a"></div>
<div id="vscroll" class="a"><svg width="10" height="330"><path d="M2.8 8.5 L5 6 L7.2 8.5" stroke="#a0a0a0" stroke-width="1" fill="none"/><path d="M2.8 322 L5 324.5 L7.2 322" stroke="#a0a0a0" stroke-width="1" fill="none"/></svg></div>
<div id="hscroll" class="a"><svg width="604" height="10"><path d="M6 2.5 L3.8 5 L6 7.5" stroke="#a0a0a0" stroke-width="1" fill="none"/><path d="M596.5 2.5 L598.7 5 L596.5 7.5" stroke="#a0a0a0" stroke-width="1" fill="none"/></svg></div>
<div id="corner" class="a"></div>
<svg width="800" height="425" style="left:0;top:0">
<rect x="412.9" y="164.5" width="114.1" height="56.7" stroke="#b04848" stroke-width="1.5" fill="none"/>
<line x1="420.0" y1="164.5" x2="420.0" y2="150.5" stroke="#b85a5a" stroke-width="0.9"/>
<line x1="420.0" y1="221.2" x2="420.0" y2="235.7" stroke="#b85a5a" stroke-width="0.9"/>
<line x1="434.3" y1="164.5" x2="434.3" y2="150.5" stroke="#b85a5a" stroke-width="0.9"/>
<line x1="434.3" y1="221.2" x2="434.3" y2="235.7" stroke="#b85a5a" stroke-width="0.9"/>
<line x1="448.6" y1="164.5" x2="448.6" y2="150.5" stroke="#b85a5a" stroke-width="0.9"/>
<line x1="448.6" y1="221.2" x2="448.6" y2="235.7" stroke="#b85a5a" stroke-width="0.9"/>
<line x1="462.9" y1="164.5" x2="462.9" y2="150.5" stroke="#b85a5a" stroke-width="0.9"/>
<line x1="462.9" y1="221.2" x2="462.9" y2="235.7" stroke="#b85a5a" stroke-width="0.9"/>
<line x1="477.2" y1="164.5" x2="477.2" y2="150.5" stroke="#b85a5a" stroke-width="0.9"/>
<line x1="477.2" y1="221.2" x2="477.2" y2="235.7" stroke="#b85a5a" stroke-width="0.9"/>
<line x1="491.5" y1="164.5" x2="491.5" y2="150.5" stroke="#b85a5a" stroke-width="0.9"/>
<line x1="491.5" y1="221.2" x2="491.5" y2="235.7" stroke="#b85a5a" stroke-width="0.9"/>
<line x1="505.8" y1="164.5" x2="505.8" y2="150.5" stroke="#b85a5a" stroke-width="0.9"/>
<line x1="505.8" y1="221.2" x2="505.8" y2="235.7" stroke="#b85a5a" stroke-width="0.9"/>
<line x1="520.1" y1="164.5" x2="520.1" y2="150.5" stroke="#b85a5a" stroke-width="0.9"/>
<line x1="520.1" y1="221.2" x2="520.1" y2="235.7" stroke="#b85a5a" stroke-width="0.9"/>
<text transform="translate(409.5,221.2) rotate(-90)" x="0" y="0" font-size="7.2" fill="#7e7e7e" textLength="11.5" lengthAdjust="spacingAndGlyphs">IC1</text>
<text transform="translate(535.5,221.2) rotate(-90)" x="0" y="0" font-size="6.6" fill="#7e7e7e" textLength="24.0" lengthAdjust="spacingAndGlyphs">L293D</text>
<text transform="translate(422.6,187.7) rotate(-90)" x="0" y="0" font-size="6.3" fill="#8e8e8e" textLength="16.4" lengthAdjust="spacingAndGlyphs">VCC1</text>
<text transform="translate(422.6,214.4) rotate(-90)" x="0" y="0" font-size="6.3" fill="#8e8e8e" textLength="20.3" lengthAdjust="spacingAndGlyphs">1-2EN</text>
<text transform="translate(418.8,157.4) rotate(-90)" x="0" y="0" font-size="4.8" fill="#8a8a8a" textLength="6.4" lengthAdjust="spacingAndGlyphs">16</text>
<text transform="translate(418.8,231.9) rotate(-90)" x="0" y="0" font-size="4.8" fill="#8a8a8a" textLength="3.2" lengthAdjust="spacingAndGlyphs">1</text>
<text transform="translate(436.9,179.9) rotate(-90)" x="0" y="0" font-size="6.3" fill="#8e8e8e" textLength="8.6" lengthAdjust="spacingAndGlyphs">4A</text>
<text transform="translate(436.9,214.4) rotate(-90)" x="0" y="0" font-size="6.3" fill="#8e8e8e" textLength="8.6" lengthAdjust="spacingAndGlyphs">1A</text>
<text transform="translate(433.1,157.4) rotate(-90)" x="0" y="0" font-size="4.8" fill="#8a8a8a" textLength="6.4" lengthAdjust="spacingAndGlyphs">15</text>
<text transform="translate(433.1,231.9) rotate(-90)" x="0" y="0" font-size="4.8" fill="#8a8a8a" textLength="3.2" lengthAdjust="spacingAndGlyphs">2</text>
<text transform="translate(451.2,179.9) rotate(-90)" x="0" y="0" font-size="6.3" fill="#8e8e8e" textLength="8.6" lengthAdjust="spacingAndGlyphs">4Y</text>
<text transform="translate(451.2,214.4) rotate(-90)" x="0" y="0" font-size="6.3" fill="#8e8e8e" textLength="8.6" lengthAdjust="spacingAndGlyphs">1Y</text>
<text transform="translate(447.4,157.4) rotate(-90)" x="0" y="0" font-size="4.8" fill="#8a8a8a" textLength="6.4" lengthAdjust="spacingAndGlyphs">14</text>
<text transform="translate(447.4,231.9) rotate(-90)" x="0" y="0" font-size="4.8" fill="#8a8a8a" textLength="3.2" lengthAdjust="spacingAndGlyphs">3</text>
<text transform="translate(465.5,187.7) rotate(-90)" x="0" y="0" font-size="6.3" fill="#8e8e8e" textLength="16.4" lengthAdjust="spacingAndGlyphs">GND3</text>
<text transform="translate(465.5,214.4) rotate(-90)" x="0" y="0" font-size="6.3" fill="#8e8e8e" textLength="16.4" lengthAdjust="spacingAndGlyphs">GND1</text>
<text transform="translate(461.7,157.4) rotate(-90)" x="0" y="0" font-size="4.8" fill="#8a8a8a" textLength="6.4" lengthAdjust="spacingAndGlyphs">13</text>
<text transform="translate(461.7,231.9) rotate(-90)" x="0" y="0" font-size="4.8" fill="#8a8a8a" textLength="3.2" lengthAdjust="spacingAndGlyphs">4</text>
<text transform="translate(479.8,187.7) rotate(-90)" x="0" y="0" font-size="6.3" fill="#8e8e8e" textLength="16.4" lengthAdjust="spacingAndGlyphs">GND4</text>
<text transform="translate(479.8,214.4) rotate(-90)" x="0" y="0" font-size="6.3" fill="#8e8e8e" textLength="16.4" lengthAdjust="spacingAndGlyphs">GND2</text>
<text transform="translate(476.0,157.4) rotate(-90)" x="0" y="0" font-size="4.8" fill="#8a8a8a" textLength="6.4" lengthAdjust="spacingAndGlyphs">12</text>
<text transform="translate(476.0,231.9) rotate(-90)" x="0" y="0" font-size="4.8" fill="#8a8a8a" textLength="3.2" lengthAdjust="spacingAndGlyphs">5</text>
<text transform="translate(494.1,179.9) rotate(-90)" x="0" y="0" font-size="6.3" fill="#8e8e8e" textLength="8.6" lengthAdjust="spacingAndGlyphs">3Y</text>
<text transform="translate(494.1,214.4) rotate(-90)" x="0" y="0" font-size="6.3" fill="#8e8e8e" textLength="8.6" lengthAdjust="spacingAndGlyphs">2Y</text>
<text transform="translate(490.3,157.4) rotate(-90)" x="0" y="0" font-size="4.8" fill="#8a8a8a" textLength="6.4" lengthAdjust="spacingAndGlyphs">11</text>
<text transform="translate(490.3,231.9) rotate(-90)" x="0" y="0" font-size="4.8" fill="#8a8a8a" textLength="3.2" lengthAdjust="spacingAndGlyphs">6</text>
<text transform="translate(508.4,179.9) rotate(-90)" x="0" y="0" font-size="6.3" fill="#8e8e8e" textLength="8.6" lengthAdjust="spacingAndGlyphs">3A</text>
<text transform="translate(508.4,214.4) rotate(-90)" x="0" y="0" font-size="6.3" fill="#8e8e8e" textLength="8.6" lengthAdjust="spacingAndGlyphs">2A</text>
<text transform="translate(504.6,157.4) rotate(-90)" x="0" y="0" font-size="4.8" fill="#8a8a8a" textLength="6.4" lengthAdjust="spacingAndGlyphs">10</text>
<text transform="translate(504.6,231.9) rotate(-90)" x="0" y="0" font-size="4.8" fill="#8a8a8a" textLength="3.2" lengthAdjust="spacingAndGlyphs">7</text>
<text transform="translate(522.7,191.6) rotate(-90)" x="0" y="0" font-size="6.3" fill="#8e8e8e" textLength="20.3" lengthAdjust="spacingAndGlyphs">3-4EN</text>
<text transform="translate(522.7,214.4) rotate(-90)" x="0" y="0" font-size="6.3" fill="#8e8e8e" textLength="16.4" lengthAdjust="spacingAndGlyphs">VCC2</text>
<text transform="translate(518.9,154.2) rotate(-90)" x="0" y="0" font-size="4.8" fill="#8a8a8a" textLength="3.2" lengthAdjust="spacingAndGlyphs">9</text>
<text transform="translate(518.9,231.9) rotate(-90)" x="0" y="0" font-size="4.8" fill="#8a8a8a" textLength="3.2" lengthAdjust="spacingAndGlyphs">8</text>
<line x1="469.0" y1="193.45" x2="472.0" y2="193.45" stroke="#d04040" stroke-width="0.9"/>
<line x1="470.5" y1="191.95" x2="470.5" y2="194.95" stroke="#d04040" stroke-width="0.9"/>
<rect x="412.9" y="275.0" width="114.1" height="56.8" stroke="#b04848" stroke-width="1.5" fill="none"/>
<line x1="420.0" y1="275.0" x2="420.0" y2="261.0" stroke="#b85a5a" stroke-width="0.9"/>
<line x1="420.0" y1="331.8" x2="420.0" y2="346.3" stroke="#b85a5a" stroke-width="0.9"/>
<line x1="434.3" y1="275.0" x2="434.3" y2="261.0" stroke="#b85a5a" stroke-width="0.9"/>
<line x1="434.3" y1="331.8" x2="434.3" y2="346.3" stroke="#b85a5a" stroke-width="0.9"/>
<line x1="448.6" y1="275.0" x2="448.6" y2="261.0" stroke="#b85a5a" stroke-width="0.9"/>
<line x1="448.6" y1="331.8" x2="448.6" y2="346.3" stroke="#b85a5a" stroke-width="0.9"/>
<line x1="462.9" y1="275.0" x2="462.9" y2="261.0" stroke="#b85a5a" stroke-width="0.9"/>
<line x1="462.9" y1="331.8" x2="462.9" y2="346.3" stroke="#b85a5a" stroke-width="0.9"/>
<line x1="477.2" y1="275.0" x2="477.2" y2="261.0" stroke="#b85a5a" stroke-width="0.9"/>
<line x1="477.2" y1="331.8" x2="477.2" y2="346.3" stroke="#b85a5a" stroke-width="0.9"/>
<line x1="491.5" y1="275.0" x2="491.5" y2="261.0" stroke="#b85a5a" stroke-width="0.9"/>
<line x1="491.5" y1="331.8" x2="491.5" y2="346.3" stroke="#b85a5a" stroke-width="0.9"/>
<line x1="505.8" y1="275.0" x2="505.8" y2="261.0" stroke="#b85a5a" stroke-width="0.9"/>
<line x1="505.8" y1="331.8" x2="505.8" y2="346.3" stroke="#b85a5a" stroke-width="0.9"/>
<line x1="520.1" y1="275.0" x2="520.1" y2="261.0" stroke="#b85a5a" stroke-width="0.9"/>
<line x1="520.1" y1="331.8" x2="520.1" y2="346.3" stroke="#b85a5a" stroke-width="0.9"/>
<text transform="translate(409.5,331.8) rotate(-90)" x="0" y="0" font-size="7.2" fill="#7e7e7e" textLength="11.5" lengthAdjust="spacingAndGlyphs">IC2</text>
<text transform="translate(535.5,331.8) rotate(-90)" x="0" y="0" font-size="6.6" fill="#7e7e7e" textLength="24.0" lengthAdjust="spacingAndGlyphs">L293D</text>
<text transform="translate(422.6,298.2) rotate(-90)" x="0" y="0" font-size="6.3" fill="#8e8e8e" textLength="16.4" lengthAdjust="spacingAndGlyphs">VCC1</text>
<text transform="translate(422.6,325.0) rotate(-90)" x="0" y="0" font-size="6.3" fill="#8e8e8e" textLength="20.3" lengthAdjust="spacingAndGlyphs">1-2EN</text>
<text transform="translate(418.8,267.9) rotate(-90)" x="0" y="0" font-size="4.8" fill="#8a8a8a" textLength="6.4" lengthAdjust="spacingAndGlyphs">16</text>
<text transform="translate(418.8,342.5) rotate(-90)" x="0" y="0" font-size="4.8" fill="#8a8a8a" textLength="3.2" lengthAdjust="spacingAndGlyphs">1</text>
<text transform="translate(436.9,290.4) rotate(-90)" x="0" y="0" font-size="6.3" fill="#8e8e8e" textLength="8.6" lengthAdjust="spacingAndGlyphs">4A</text>
<text transform="translate(436.9,325.0) rotate(-90)" x="0" y="0" font-size="6.3" fill="#8e8e8e" textLength="8.6" lengthAdjust="spacingAndGlyphs">1A</text>
<text transform="translate(433.1,267.9) rotate(-90)" x="0" y="0" font-size="4.8" fill="#8a8a8a" textLength="6.4" lengthAdjust="spacingAndGlyphs">15</text>
<text transform="translate(433.1,342.5) rotate(-90)" x="0" y="0" font-size="4.8" fill="#8a8a8a" textLength="3.2" lengthAdjust="spacingAndGlyphs">2</text>
<text transform="translate(451.2,290.4) rotate(-90)" x="0" y="0" font-size="6.3" fill="#8e8e8e" textLength="8.6" lengthAdjust="spacingAndGlyphs">4Y</text>
<text transform="translate(451.2,325.0) rotate(-90)" x="0" y="0" font-size="6.3" fill="#8e8e8e" textLength="8.6" lengthAdjust="spacingAndGlyphs">1Y</text>
<text transform="translate(447.4,267.9) rotate(-90)" x="0" y="0" font-size="4.8" fill="#8a8a8a" textLength="6.4" lengthAdjust="spacingAndGlyphs">14</text>
<text transform="translate(447.4,342.5) rotate(-90)" x="0" y="0" font-size="4.8" fill="#8a8a8a" textLength="3.2" lengthAdjust="spacingAndGlyphs">3</text>
<text transform="translate(465.5,298.2) rotate(-90)" x="0" y="0" font-size="6.3" fill="#8e8e8e" textLength="16.4" lengthAdjust="spacingAndGlyphs">GND3</text>
<text transform="translate(465.5,325.0) rotate(-90)" x="0" y="0" font-size="6.3" fill="#8e8e8e" textLength="16.4" lengthAdjust="spacingAndGlyphs">GND1</text>
<text transform="translate(461.7,267.9) rotate(-90)" x="0" y="0" font-size="4.8" fill="#8a8a8a" textLength="6.4" lengthAdjust="spacingAndGlyphs">13</text>
<text transform="translate(461.7,342.5) rotate(-90)" x="0" y="0" font-size="4.8" fill="#8a8a8a" textLength="3.2" lengthAdjust="spacingAndGlyphs">4</text>
<text transform="translate(479.8,298.2) rotate(-90)" x="0" y="0" font-size="6.3" fill="#8e8e8e" textLength="16.4" lengthAdjust="spacingAndGlyphs">GND4</text>
<text transform="translate(479.8,325.0) rotate(-90)" x="0" y="0" font-size="6.3" fill="#8e8e8e" textLength="16.4" lengthAdjust="spacingAndGlyphs">GND2</text>
<text transform="translate(476.0,267.9) rotate(-90)" x="0" y="0" font-size="4.8" fill="#8a8a8a" textLength="6.4" lengthAdjust="spacingAndGlyphs">12</text>
<text transform="translate(476.0,342.5) rotate(-90)" x="0" y="0" font-size="4.8" fill="#8a8a8a" textLength="3.2" lengthAdjust="spacingAndGlyphs">5</text>
<text transform="translate(494.1,290.4) rotate(-90)" x="0" y="0" font-size="6.3" fill="#8e8e8e" textLength="8.6" lengthAdjust="spacingAndGlyphs">3Y</text>
<text transform="translate(494.1,325.0) rotate(-90)" x="0" y="0" font-size="6.3" fill="#8e8e8e" textLength="8.6" lengthAdjust="spacingAndGlyphs">2Y</text>
<text transform="translate(490.3,267.9) rotate(-90)" x="0" y="0" font-size="4.8" fill="#8a8a8a" textLength="6.4" lengthAdjust="spacingAndGlyphs">11</text>
<text transform="translate(490.3,342.5) rotate(-90)" x="0" y="0" font-size="4.8" fill="#8a8a8a" textLength="3.2" lengthAdjust="spacingAndGlyphs">6</text>
<text transform="translate(508.4,290.4) rotate(-90)" x="0" y="0" font-size="6.3" fill="#8e8e8e" textLength="8.6" lengthAdjust="spacingAndGlyphs">3A</text>
<text transform="translate(508.4,325.0) rotate(-90)" x="0" y="0" font-size="6.3" fill="#8e8e8e" textLength="8.6" lengthAdjust="spacingAndGlyphs">2A</text>
<text transform="translate(504.6,267.9) rotate(-90)" x="0" y="0" font-size="4.8" fill="#8a8a8a" textLength="6.4" lengthAdjust="spacingAndGlyphs">10</text>
<text transform="translate(504.6,342.5) rotate(-90)" x="0" y="0" font-size="4.8" fill="#8a8a8a" textLength="3.2" lengthAdjust="spacingAndGlyphs">7</text>
<text transform="translate(522.7,302.1) rotate(-90)" x="0" y="0" font-size="6.3" fill="#8e8e8e" textLength="20.3" lengthAdjust="spacingAndGlyphs">3-4EN</text>
<text transform="translate(522.7,325.0) rotate(-90)" x="0" y="0" font-size="6.3" fill="#8e8e8e" textLength="16.4" lengthAdjust="spacingAndGlyphs">VCC2</text>
<text transform="translate(518.9,264.7) rotate(-90)" x="0" y="0" font-size="4.8" fill="#8a8a8a" textLength="3.2" lengthAdjust="spacingAndGlyphs">9</text>
<text transform="translate(518.9,342.5) rotate(-90)" x="0" y="0" font-size="4.8" fill="#8a8a8a" textLength="3.2" lengthAdjust="spacingAndGlyphs">8</text>
<line x1="469.0" y1="304.0" x2="472.0" y2="304.0" stroke="#d04040" stroke-width="0.9"/>
<line x1="470.5" y1="302.5" x2="470.5" y2="305.5" stroke="#d04040" stroke-width="0.9"/>
<line x1="420.0" y1="151.0" x2="420.0" y2="141.0" stroke="#5cb85c" stroke-width="0.9"/>
<line x1="416.7" y1="141.3" x2="416.2" y2="144.7" stroke="#555" stroke-width="0.8"/>
<text x="416.0" y="143.5" font-size="7.2" fill="#7e7e7e" textLength="14.6" lengthAdjust="spacingAndGlyphs">VCC</text>
<line x1="434.3" y1="151.0" x2="434.3" y2="131.8" stroke="#5cb85c" stroke-width="0.9"/>
<line x1="434.7" y1="130.8" x2="434.2" y2="134.2" stroke="#555" stroke-width="0.8"/>
<text x="434.0" y="133.0" font-size="7.2" fill="#7e7e7e" textLength="9.5" lengthAdjust="spacingAndGlyphs">M2</text>
<line x1="448.6" y1="151.0" x2="448.6" y2="140.0" stroke="#5cb85c" stroke-width="0.9"/>
<line x1="448.7" y1="135.8" x2="448.2" y2="139.2" stroke="#555" stroke-width="0.8"/>
<text x="448.0" y="138.0" font-size="7.2" fill="#7e7e7e" textLength="9.5" lengthAdjust="spacingAndGlyphs">N1</text>
<polyline points="462.9,151.0 477.2,151.0" stroke="#5cb85c" stroke-width="0.9" fill="none"/>
<line x1="491.5" y1="151.0" x2="491.5" y2="141.0" stroke="#5cb85c" stroke-width="0.9"/>
<line x1="491.7" y1="140.8" x2="491.2" y2="144.2" stroke="#555" stroke-width="0.8"/>
<text x="491.0" y="143.0" font-size="7.2" fill="#7e7e7e" textLength="9.0" lengthAdjust="spacingAndGlyphs">N2</text>
<line x1="505.8" y1="151.0" x2="505.8" y2="130.7" stroke="#5cb85c" stroke-width="0.9"/>
<line x1="506.2" y1="130.3" x2="505.7" y2="133.7" stroke="#555" stroke-width="0.8"/>
<text x="505.5" y="132.5" font-size="7.2" fill="#7e7e7e" textLength="10.0" lengthAdjust="spacingAndGlyphs">M1</text>
<line x1="520.1" y1="151.0" x2="520.1" y2="142.0" stroke="#5cb85c" stroke-width="0.9"/>
<line x1="520.2" y1="141.3" x2="519.7" y2="144.7" stroke="#555" stroke-width="0.8"/>
<text x="519.5" y="143.5" font-size="7.2" fill="#7e7e7e" textLength="20.0" lengthAdjust="spacingAndGlyphs">PWM1</text>
<line x1="477.2" y1="151.0" x2="477.2" y2="359.7" stroke="#5cb85c" stroke-width="0.9"/>
<circle cx="477.2" cy="151.0" r="1.6" fill="#2f8f2f"/>
<circle cx="477.2" cy="236.0" r="1.6" fill="#2f8f2f"/>
<circle cx="477.2" cy="261.0" r="1.6" fill="#2f8f2f"/>
<circle cx="477.2" cy="346.0" r="1.6" fill="#2f8f2f"/>
<line x1="462.9" y1="236.0" x2="477.2" y2="236.0" stroke="#5cb85c" stroke-width="0.9"/>
<line x1="462.9" y1="261.0" x2="477.2" y2="261.0" stroke="#5cb85c" stroke-width="0.9"/>
<line x1="462.9" y1="346.0" x2="477.2" y2="346.0" stroke="#5cb85c" stroke-width="0.9"/>
<line x1="420.0" y1="236.0" x2="420.0" y2="261.0" stroke="#5cb85c" stroke-width="0.9"/>
<line x1="434.3" y1="236.0" x2="434.3" y2="240.0" stroke="#5cb85c" stroke-width="0.9"/>
<line x1="434.3" y1="246.0" x2="434.3" y2="261.0" stroke="#5cb85c" stroke-width="0.9"/>
<line x1="448.6" y1="236.0" x2="448.6" y2="243.0" stroke="#5cb85c" stroke-width="0.9"/>
<line x1="448.6" y1="251.0" x2="448.6" y2="261.0" stroke="#5cb85c" stroke-width="0.9"/>
<line x1="491.5" y1="236.0" x2="491.5" y2="243.0" stroke="#5cb85c" stroke-width="0.9"/>
<line x1="491.5" y1="250.0" x2="491.5" y2="261.0" stroke="#5cb85c" stroke-width="0.9"/>
<line x1="505.8" y1="236.0" x2="505.8" y2="243.0" stroke="#5cb85c" stroke-width="0.9"/>
<line x1="505.8" y1="252.0" x2="505.8" y2="261.0" stroke="#5cb85c" stroke-width="0.9"/>
<line x1="520.1" y1="236.0" x2="520.1" y2="238.0" stroke="#5cb85c" stroke-width="0.9"/>
<line x1="520.1" y1="243.0" x2="520.1" y2="261.0" stroke="#5cb85c" stroke-width="0.9"/>
<line x1="410.09999999999997" y1="247.8" x2="409.59999999999997" y2="251.2" stroke="#555" stroke-width="0.8"/>
<text x="409.4" y="250.0" font-size="7.2" fill="#7e7e7e" textLength="19.4" lengthAdjust="spacingAndGlyphs">PWM1</text>
<line x1="417.2" y1="254.8" x2="416.7" y2="258.2" stroke="#555" stroke-width="0.8"/>
<text x="416.5" y="257.0" font-size="7.2" fill="#7e7e7e" textLength="14.1" lengthAdjust="spacingAndGlyphs">VCC</text>
<line x1="431.3" y1="237.20000000000002" x2="430.8" y2="240.6" stroke="#555" stroke-width="0.8"/>
<text x="430.6" y="239.4" font-size="7.2" fill="#7e7e7e" textLength="8.8" lengthAdjust="spacingAndGlyphs">M3</text>
<line x1="434.7" y1="247.8" x2="434.2" y2="251.2" stroke="#555" stroke-width="0.8"/>
<text x="434.0" y="250.0" font-size="7.2" fill="#7e7e7e" textLength="8.0" lengthAdjust="spacingAndGlyphs">M7</text>
<line x1="445.7" y1="237.20000000000002" x2="445.2" y2="240.6" stroke="#555" stroke-width="0.8"/>
<text x="445.0" y="239.4" font-size="7.2" fill="#7e7e7e" textLength="8.8" lengthAdjust="spacingAndGlyphs">N3</text>
<line x1="448.7" y1="254.10000000000002" x2="448.2" y2="257.5" stroke="#555" stroke-width="0.8"/>
<text x="448.0" y="256.3" font-size="7.2" fill="#7e7e7e" textLength="8.9" lengthAdjust="spacingAndGlyphs">N7</text>
<line x1="488.2" y1="240.9" x2="487.7" y2="244.29999999999998" stroke="#555" stroke-width="0.8"/>
<text x="487.5" y="243.1" font-size="7.2" fill="#7e7e7e" textLength="8.8" lengthAdjust="spacingAndGlyphs">N4</text>
<line x1="488.2" y1="252.20000000000002" x2="487.7" y2="255.6" stroke="#555" stroke-width="0.8"/>
<text x="487.5" y="254.4" font-size="7.2" fill="#7e7e7e" textLength="8.5" lengthAdjust="spacingAndGlyphs">N8</text>
<line x1="498.7" y1="244.10000000000002" x2="498.2" y2="247.5" stroke="#555" stroke-width="0.8"/>
<text x="498.0" y="246.3" font-size="7.2" fill="#7e7e7e" textLength="9.5" lengthAdjust="spacingAndGlyphs">M4</text>
<line x1="502.59999999999997" y1="252.20000000000002" x2="502.09999999999997" y2="255.6" stroke="#555" stroke-width="0.8"/>
<text x="501.9" y="254.4" font-size="7.2" fill="#7e7e7e" textLength="8.7" lengthAdjust="spacingAndGlyphs">M8</text>
<line x1="520.1" y1="237.8" x2="519.6" y2="241.2" stroke="#555" stroke-width="0.8"/>
<text x="519.4" y="240.0" font-size="7.2" fill="#7e7e7e" textLength="12.5" lengthAdjust="spacingAndGlyphs">12V</text>
<line x1="516.3000000000001" y1="252.20000000000002" x2="515.8000000000001" y2="255.6" stroke="#555" stroke-width="0.8"/>
<text x="515.6" y="254.4" font-size="7.2" fill="#7e7e7e" textLength="20.7" lengthAdjust="spacingAndGlyphs">PWM2</text>
<line x1="420.0" y1="346.0" x2="420.0" y2="367.0" stroke="#5cb85c" stroke-width="0.9"/>
<line x1="402.7" y1="362.8" x2="402.2" y2="366.2" stroke="#555" stroke-width="0.8"/>
<text x="402.0" y="365.0" font-size="7.2" fill="#7e7e7e" textLength="20.0" lengthAdjust="spacingAndGlyphs">PWM2</text>
<line x1="434.3" y1="346.0" x2="434.3" y2="363.0" stroke="#5cb85c" stroke-width="0.9"/>
<line x1="437.7" y1="365.8" x2="437.2" y2="369.2" stroke="#555" stroke-width="0.8"/>
<text x="437.0" y="368.0" font-size="7.2" fill="#7e7e7e" textLength="10.0" lengthAdjust="spacingAndGlyphs">M6</text>
<line x1="448.6" y1="346.0" x2="448.6" y2="357.0" stroke="#5cb85c" stroke-width="0.9"/>
<line x1="449.7" y1="355.3" x2="449.2" y2="358.7" stroke="#555" stroke-width="0.8"/>
<text x="449.0" y="357.5" font-size="7.2" fill="#7e7e7e" textLength="8.5" lengthAdjust="spacingAndGlyphs">N6</text>
<line x1="491.5" y1="346.0" x2="491.5" y2="357.0" stroke="#5cb85c" stroke-width="0.9"/>
<line x1="492.7" y1="355.8" x2="492.2" y2="359.2" stroke="#555" stroke-width="0.8"/>
<text x="492.0" y="358.0" font-size="7.2" fill="#7e7e7e" textLength="8.5" lengthAdjust="spacingAndGlyphs">N5</text>
<line x1="505.8" y1="346.0" x2="505.8" y2="367.0" stroke="#5cb85c" stroke-width="0.9"/>
<line x1="505.7" y1="365.8" x2="505.2" y2="369.2" stroke="#555" stroke-width="0.8"/>
<text x="505.0" y="368.0" font-size="7.2" fill="#7e7e7e" textLength="10.0" lengthAdjust="spacingAndGlyphs">M5</text>
<line x1="520.1" y1="346.0" x2="520.1" y2="357.0" stroke="#5cb85c" stroke-width="0.9"/>
<line x1="520.7" y1="355.8" x2="520.2" y2="359.2" stroke="#555" stroke-width="0.8"/>
<text x="520.0" y="358.0" font-size="7.2" fill="#7e7e7e" textLength="13.0" lengthAdjust="spacingAndGlyphs">12V</text>
<rect x="327.3" y="210.6" width="22.0" height="92.7" stroke="#b04848" stroke-width="1.5" fill="none"/>
<circle cx="334.1" cy="217.6" r="2.8" stroke="#b85a5a" stroke-width="0.9" fill="none"/>
<line x1="337.2" y1="217.6" x2="356.4" y2="217.6" stroke="#5cb85c" stroke-width="0.9"/>
<line x1="355.7" y1="212.60000000000002" x2="355.2" y2="216.0" stroke="#555" stroke-width="0.8"/>
<text x="355.0" y="214.8" font-size="7.2" fill="#7e7e7e" textLength="9.4" lengthAdjust="spacingAndGlyphs">M2</text>
<text x="338.2" y="216.6" font-size="5.4" fill="#7e7e7e" textLength="6.6" lengthAdjust="spacingAndGlyphs">12</text>
<circle cx="334.1" cy="224.75" r="2.8" stroke="#b85a5a" stroke-width="0.9" fill="none"/>
<line x1="337.2" y1="224.75" x2="357.0" y2="224.75" stroke="#5cb85c" stroke-width="0.9"/>
<line x1="359.5" y1="222.8" x2="359.0" y2="226.2" stroke="#555" stroke-width="0.8"/>
<text x="358.8" y="225.0" font-size="7.2" fill="#7e7e7e" textLength="9.2" lengthAdjust="spacingAndGlyphs">M1</text>
<text x="338.2" y="223.75" font-size="5.4" fill="#7e7e7e" textLength="6.6" lengthAdjust="spacingAndGlyphs">11</text>
<circle cx="334.1" cy="231.9" r="2.8" stroke="#b85a5a" stroke-width="0.9" fill="none"/>
<line x1="337.2" y1="231.9" x2="357.0" y2="231.9" stroke="#5cb85c" stroke-width="0.9"/>
<line x1="359.5" y1="229.8" x2="359.0" y2="233.2" stroke="#555" stroke-width="0.8"/>
<text x="358.8" y="232.0" font-size="7.2" fill="#7e7e7e" textLength="9.2" lengthAdjust="spacingAndGlyphs">M3</text>
<text x="338.2" y="230.9" font-size="5.4" fill="#7e7e7e" textLength="6.6" lengthAdjust="spacingAndGlyphs">10</text>
<circle cx="334.1" cy="239.05" r="2.8" stroke="#b85a5a" stroke-width="0.9" fill="none"/>
<line x1="337.2" y1="239.05" x2="363.7" y2="239.05" stroke="#5cb85c" stroke-width="0.9"/>
<line x1="363.7" y1="237.3" x2="363.2" y2="240.7" stroke="#555" stroke-width="0.8"/>
<text x="363.0" y="239.5" font-size="7.2" fill="#7e7e7e" textLength="19.0" lengthAdjust="spacingAndGlyphs">PWM1</text>
<text x="338.2" y="238.05" font-size="5.4" fill="#7e7e7e" textLength="3.3" lengthAdjust="spacingAndGlyphs">9</text>
<circle cx="334.1" cy="246.2" r="2.8" stroke="#b85a5a" stroke-width="0.9" fill="none"/>
<line x1="337.2" y1="246.2" x2="367.0" y2="246.2" stroke="#5cb85c" stroke-width="0.9"/>
<line x1="367.2" y1="244.4" x2="366.7" y2="247.79999999999998" stroke="#555" stroke-width="0.8"/>
<text x="366.5" y="246.6" font-size="7.2" fill="#7e7e7e" textLength="8.5" lengthAdjust="spacingAndGlyphs">M4</text>
<text x="338.2" y="245.2" font-size="5.4" fill="#7e7e7e" textLength="3.3" lengthAdjust="spacingAndGlyphs">8</text>
<circle cx="334.1" cy="253.35" r="2.8" stroke="#b85a5a" stroke-width="0.9" fill="none"/>
<line x1="337.2" y1="253.35" x2="367.0" y2="253.35" stroke="#5cb85c" stroke-width="0.9"/>
<line x1="367.2" y1="251.60000000000002" x2="366.7" y2="255.0" stroke="#555" stroke-width="0.8"/>
<text x="366.5" y="253.8" font-size="7.2" fill="#7e7e7e" textLength="8.5" lengthAdjust="spacingAndGlyphs">M8</text>
<text x="338.2" y="252.35" font-size="5.4" fill="#7e7e7e" textLength="3.3" lengthAdjust="spacingAndGlyphs">7</text>
<circle cx="334.1" cy="260.5" r="2.8" stroke="#b85a5a" stroke-width="0.9" fill="none"/>
<line x1="337.2" y1="260.5" x2="360.2" y2="260.5" stroke="#5cb85c" stroke-width="0.9"/>
<line x1="360.2" y1="258.0" x2="359.7" y2="261.4" stroke="#555" stroke-width="0.8"/>
<text x="359.5" y="260.2" font-size="7.2" fill="#7e7e7e" textLength="8.5" lengthAdjust="spacingAndGlyphs">M7</text>
<text x="338.2" y="259.5" font-size="5.4" fill="#7e7e7e" textLength="3.3" lengthAdjust="spacingAndGlyphs">6</text>
<circle cx="334.1" cy="267.65" r="2.8" stroke="#b85a5a" stroke-width="0.9" fill="none"/>
<line x1="337.2" y1="267.65" x2="360.2" y2="267.65" stroke="#5cb85c" stroke-width="0.9"/>
<line x1="360.2" y1="265.40000000000003" x2="359.7" y2="268.8" stroke="#555" stroke-width="0.8"/>
<text x="359.5" y="267.6" font-size="7.2" fill="#7e7e7e" textLength="8.5" lengthAdjust="spacingAndGlyphs">M6</text>
<text x="338.2" y="266.65" font-size="5.4" fill="#7e7e7e" textLength="3.3" lengthAdjust="spacingAndGlyphs">5</text>
<circle cx="334.1" cy="274.8" r="2.8" stroke="#b85a5a" stroke-width="0.9" fill="none"/>
<line x1="337.2" y1="274.8" x2="360.2" y2="274.8" stroke="#5cb85c" stroke-width="0.9"/>
<line x1="360.2" y1="272.6" x2="359.7" y2="276.0" stroke="#555" stroke-width="0.8"/>
<text x="359.5" y="274.8" font-size="7.2" fill="#7e7e7e" textLength="8.5" lengthAdjust="spacingAndGlyphs">M5</text>
<text x="338.2" y="273.8" font-size="5.4" fill="#7e7e7e" textLength="3.3" lengthAdjust="spacingAndGlyphs">4</text>
<circle cx="334.1" cy="281.95" r="2.8" stroke="#b85a5a" stroke-width="0.9" fill="none"/>
<line x1="337.2" y1="281.95" x2="360.2" y2="281.95" stroke="#5cb85c" stroke-width="0.9"/>
<line x1="360.2" y1="279.8" x2="359.7" y2="283.2" stroke="#555" stroke-width="0.8"/>
<text x="359.5" y="282.0" font-size="7.2" fill="#7e7e7e" textLength="19.0" lengthAdjust="spacingAndGlyphs">PWM2</text>
<text x="338.2" y="280.95" font-size="5.4" fill="#7e7e7e" textLength="3.3" lengthAdjust="spacingAndGlyphs">3</text>
<circle cx="334.1" cy="289.1" r="2.8" stroke="#b85a5a" stroke-width="0.9" fill="none"/>
<line x1="337.2" y1="289.1" x2="361.0" y2="289.1" stroke="#5cb85c" stroke-width="0.9"/>
<line x1="363.0" y1="286.6" x2="362.5" y2="290.0" stroke="#555" stroke-width="0.8"/>
<text x="362.3" y="288.8" font-size="7.2" fill="#7e7e7e" textLength="15.5" lengthAdjust="spacingAndGlyphs">GND</text>
<text x="338.2" y="288.1" font-size="5.4" fill="#7e7e7e" textLength="3.3" lengthAdjust="spacingAndGlyphs">2</text>
<circle cx="334.1" cy="296.25" r="2.8" stroke="#b85a5a" stroke-width="0.9" fill="none"/>
<line x1="337.2" y1="296.25" x2="360.2" y2="296.25" stroke="#5cb85c" stroke-width="0.9"/>
<line x1="360.2" y1="293.8" x2="359.7" y2="297.2" stroke="#555" stroke-width="0.8"/>
<text x="359.5" y="296.0" font-size="7.2" fill="#7e7e7e" textLength="13.4" lengthAdjust="spacingAndGlyphs">VCC</text>
<text x="338.2" y="295.25" font-size="5.4" fill="#7e7e7e" textLength="3.3" lengthAdjust="spacingAndGlyphs">1</text>
<text x="336.2" y="311.0" font-size="7.4" fill="#7e7e7e" textLength="12.0" lengthAdjust="spacingAndGlyphs">JP2</text>
<rect x="555.3" y="114.4" width="22.0" height="22.0" stroke="#b04848" stroke-width="1.5" fill="none"/>
<circle cx="570.6" cy="121.8" r="3.5" stroke="#b85a5a" stroke-width="0.9" fill="none"/>
<circle cx="570.6" cy="129.1" r="3.5" stroke="#b85a5a" stroke-width="0.9" fill="none"/>
<line x1="543.0" y1="121.8" x2="567.1" y2="121.8" stroke="#5cb85c" stroke-width="0.9"/>
<line x1="543.0" y1="129.1" x2="567.1" y2="129.1" stroke="#5cb85c" stroke-width="0.9"/>
<line x1="542.7" y1="118.6" x2="542.2" y2="122.0" stroke="#555" stroke-width="0.8"/>
<text x="542.0" y="120.8" font-size="7.2" fill="#7e7e7e" textLength="10.5" lengthAdjust="spacingAndGlyphs">N1</text>
<line x1="542.7" y1="128.4" x2="542.2" y2="131.79999999999998" stroke="#555" stroke-width="0.8"/>
<text x="542.0" y="130.6" font-size="7.2" fill="#7e7e7e" textLength="10.5" lengthAdjust="spacingAndGlyphs">N2</text>
<text x="562.0" y="120.9" font-size="6.2" fill="#5a5a5a" textLength="3.4" lengthAdjust="spacingAndGlyphs">1</text>
<text x="562.0" y="128.2" font-size="6.2" fill="#5a5a5a" textLength="3.4" lengthAdjust="spacingAndGlyphs">2</text>
<text x="555.8" y="112.9" font-size="7.4" fill="#7e7e7e" textLength="12.5" lengthAdjust="spacingAndGlyphs">JP5</text>
<rect x="555.4" y="221.1" width="21.3" height="21.9" stroke="#b04848" stroke-width="1.5" fill="none"/>
<circle cx="570.5" cy="228.2" r="3.2" stroke="#b85a5a" stroke-width="0.9" fill="none"/>
<circle cx="570.5" cy="235.8" r="3.2" stroke="#b85a5a" stroke-width="0.9" fill="none"/>
<line x1="547.0" y1="228.2" x2="567.3" y2="228.2" stroke="#5cb85c" stroke-width="0.9"/>
<line x1="547.0" y1="235.8" x2="567.3" y2="235.8" stroke="#5cb85c" stroke-width="0.9"/>
<line x1="546.7" y1="225.0" x2="546.2" y2="228.39999999999998" stroke="#555" stroke-width="0.8"/>
<text x="546.0" y="227.2" font-size="7.2" fill="#7e7e7e" textLength="10.5" lengthAdjust="spacingAndGlyphs">N4</text>
<line x1="546.7" y1="235.10000000000002" x2="546.2" y2="238.5" stroke="#555" stroke-width="0.8"/>
<text x="546.0" y="237.3" font-size="7.2" fill="#7e7e7e" textLength="10.5" lengthAdjust="spacingAndGlyphs">N3</text>
<text x="561.9" y="227.3" font-size="6.2" fill="#5a5a5a" textLength="3.4" lengthAdjust="spacingAndGlyphs">1</text>
<text x="561.9" y="234.9" font-size="6.2" fill="#5a5a5a" textLength="3.4" lengthAdjust="spacingAndGlyphs">2</text>
<text x="555.9" y="219.6" font-size="7.4" fill="#7e7e7e" textLength="13.5" lengthAdjust="spacingAndGlyphs">JP1</text>
<rect x="555.4" y="253.7" width="21.3" height="20.7" stroke="#b04848" stroke-width="1.5" fill="none"/>
<circle cx="570.5" cy="260.3" r="3.2" stroke="#b85a5a" stroke-width="0.9" fill="none"/>
<circle cx="570.5" cy="267.4" r="3.2" stroke="#b85a5a" stroke-width="0.9" fill="none"/>
<line x1="543.0" y1="260.3" x2="567.3" y2="260.3" stroke="#5cb85c" stroke-width="0.9"/>
<line x1="543.0" y1="267.4" x2="567.3" y2="267.4" stroke="#5cb85c" stroke-width="0.9"/>
<line x1="542.7" y1="257.1" x2="542.2" y2="260.5" stroke="#555" stroke-width="0.8"/>
<text x="542.0" y="259.3" font-size="7.2" fill="#7e7e7e" textLength="10.5" lengthAdjust="spacingAndGlyphs">N7</text>
<line x1="542.7" y1="266.7" x2="542.2" y2="270.09999999999997" stroke="#555" stroke-width="0.8"/>
<text x="542.0" y="268.9" font-size="7.2" fill="#7e7e7e" textLength="10.5" lengthAdjust="spacingAndGlyphs">N8</text>
<text x="561.9" y="259.4" font-size="6.2" fill="#5a5a5a" textLength="3.4" lengthAdjust="spacingAndGlyphs">1</text>
<text x="561.9" y="266.5" font-size="6.2" fill="#5a5a5a" textLength="3.4" lengthAdjust="spacingAndGlyphs">2</text>
<text x="555.9" y="252.2" font-size="7.4" fill="#7e7e7e" textLength="13.5" lengthAdjust="spacingAndGlyphs">JP3</text>
<rect x="559.2" y="331.5" width="21.4" height="21.4" stroke="#b04848" stroke-width="1.5" fill="none"/>
<circle cx="574.5" cy="339.1" r="3.3" stroke="#b85a5a" stroke-width="0.9" fill="none"/>
<circle cx="574.5" cy="346.2" r="3.3" stroke="#b85a5a" stroke-width="0.9" fill="none"/>
<line x1="545.0" y1="339.1" x2="571.2" y2="339.1" stroke="#5cb85c" stroke-width="0.9"/>
<line x1="545.0" y1="346.2" x2="571.2" y2="346.2" stroke="#5cb85c" stroke-width="0.9"/>
<line x1="544.7" y1="335.90000000000003" x2="544.2" y2="339.3" stroke="#555" stroke-width="0.8"/>
<text x="544.0" y="338.1" font-size="7.2" fill="#7e7e7e" textLength="10.5" lengthAdjust="spacingAndGlyphs">N5</text>
<line x1="544.7" y1="345.5" x2="544.2" y2="348.9" stroke="#555" stroke-width="0.8"/>
<text x="544.0" y="347.7" font-size="7.2" fill="#7e7e7e" textLength="10.5" lengthAdjust="spacingAndGlyphs">N6</text>
<text x="565.9" y="338.2" font-size="6.2" fill="#5a5a5a" textLength="3.4" lengthAdjust="spacingAndGlyphs">1</text>
<text x="565.9" y="345.3" font-size="6.2" fill="#5a5a5a" textLength="3.4" lengthAdjust="spacingAndGlyphs">2</text>
<text x="559.7" y="330.0" font-size="7.4" fill="#7e7e7e" textLength="11.5" lengthAdjust="spacingAndGlyphs">JP4</text>
<rect x="644.4" y="160.5" width="15.3" height="22.5" stroke="#b04848" stroke-width="1.5" fill="none"/>
<polyline points="644.4,164.4 652.4,164.4 652.4,183.0" stroke="#b04848" stroke-width="1.1" fill="none"/>
<polyline points="658.0,171.5 655.2,175.5 658.5,178.3" stroke="#b04848" stroke-width="1.0" fill="none"/>
<line x1="636.8" y1="164.6" x2="644.4" y2="164.6" stroke="#b85a5a" stroke-width="0.9"/>
<line x1="622.7" y1="164.6" x2="636.8" y2="164.6" stroke="#5cb85c" stroke-width="0.9"/>
<line x1="623.7" y1="161.8" x2="623.2" y2="165.2" stroke="#555" stroke-width="0.8"/>
<text x="623.0" y="164.0" font-size="7.2" fill="#7e7e7e" textLength="12.5" lengthAdjust="spacingAndGlyphs">12V</text>
<line x1="659.7" y1="164.6" x2="671.7" y2="164.6" stroke="#b85a5a" stroke-width="0.9"/>
<line x1="671.7" y1="164.6" x2="680.0" y2="164.6" stroke="#5cb85c" stroke-width="0.9"/>
<line x1="673.7" y1="161.8" x2="673.2" y2="165.2" stroke="#555" stroke-width="0.8"/>
<text x="673.0" y="164.0" font-size="7.2" fill="#7e7e7e" textLength="15.5" lengthAdjust="spacingAndGlyphs">GND</text>
<line x1="658.5" y1="178.3" x2="671.7" y2="178.3" stroke="#b85a5a" stroke-width="0.9"/>
<line x1="671.7" y1="178.3" x2="680.0" y2="178.3" stroke="#5cb85c" stroke-width="0.9"/>
<line x1="673.7" y1="176.3" x2="673.2" y2="179.7" stroke="#555" stroke-width="0.8"/>
<text x="673.0" y="178.5" font-size="7.2" fill="#7e7e7e" textLength="15.5" lengthAdjust="spacingAndGlyphs">GND</text>
<text x="644.0" y="158.0" font-size="7.4" fill="#7e7e7e" textLength="19.5" lengthAdjust="spacingAndGlyphs">JACK</text>
<rect x="640.8" y="217.6" width="43.6" height="36.0" stroke="#b04848" stroke-width="1.5" fill="none"/>
<text x="640.8" y="215.8" font-size="7.4" fill="#7e7e7e" textLength="22.8" lengthAdjust="spacingAndGlyphs">5V1117</text>
<text x="647.7" y="225.3" font-size="7.4" fill="#7e7e7e" textLength="29.7" lengthAdjust="spacingAndGlyphs">REG1117</text>
<text x="647.2" y="234.3" font-size="5.9" fill="#7e7e7e" textLength="29.1" lengthAdjust="spacingAndGlyphs">VIN VOUT</text>
<text transform="translate(664.2,245.8) rotate(-90)" x="0" y="0" font-size="5.1" fill="#7e7e7e" textLength="11.1" lengthAdjust="spacingAndGlyphs">GND</text>
<line x1="628.0" y1="232.2" x2="640.8" y2="232.2" stroke="#b85a5a" stroke-width="0.9"/>
<line x1="599.0" y1="232.2" x2="628.0" y2="232.2" stroke="#5cb85c" stroke-width="0.9"/>
<circle cx="627.0" cy="232.2" r="1.6" fill="#2f8f2f"/>
<line x1="598.7" y1="229.8" x2="598.2" y2="233.2" stroke="#555" stroke-width="0.8"/>
<text x="598.0" y="232.0" font-size="7.2" fill="#7e7e7e" textLength="13.0" lengthAdjust="spacingAndGlyphs">12V</text>
<text x="631.0" y="231.0" font-size="5.4" fill="#7e7e7e" textLength="3.0" lengthAdjust="spacingAndGlyphs">3</text>
<line x1="684.4" y1="232.2" x2="700.3" y2="232.2" stroke="#b85a5a" stroke-width="0.9"/>
<line x1="700.3" y1="232.2" x2="719.4" y2="232.2" stroke="#5cb85c" stroke-width="0.9"/>
<text x="689.0" y="231.0" font-size="5.4" fill="#7e7e7e" textLength="3.0" lengthAdjust="spacingAndGlyphs">2</text>
<line x1="701.7" y1="229.8" x2="701.2" y2="233.2" stroke="#555" stroke-width="0.8"/>
<text x="701.0" y="232.0" font-size="7.2" fill="#7e7e7e" textLength="15.5" lengthAdjust="spacingAndGlyphs">VCC</text>
<line x1="662.6" y1="253.6" x2="662.6" y2="274.7" stroke="#b85a5a" stroke-width="0.9"/>
<text transform="translate(660.5,262.5) rotate(-90)" x="0" y="0" font-size="5.4" fill="#7e7e7e" textLength="3.5" lengthAdjust="spacingAndGlyphs">1</text>
<line x1="627.0" y1="232.2" x2="627.0" y2="274.7" stroke="#5cb85c" stroke-width="0.9"/>
<line x1="627.0" y1="274.7" x2="633.2" y2="274.7" stroke="#b85a5a" stroke-width="0.9"/>
<line x1="633.2" y1="267.6" x2="633.2" y2="281.8" stroke="#b85a5a" stroke-width="1.3"/>
<path d="M639.5,267.6 Q635.5,274.7 639.5,281.8" stroke="#b85a5a" stroke-width="1.2" fill="none"/>
<line x1="637.0" y1="274.7" x2="648.0" y2="274.7" stroke="#b85a5a" stroke-width="0.9"/>
<line x1="648.0" y1="274.7" x2="662.6" y2="274.7" stroke="#5cb85c" stroke-width="0.9"/>
<text x="631.0" y="268.0" font-size="7.4" fill="#7e7e7e" textLength="10.0" lengthAdjust="spacingAndGlyphs">C7</text>
<text x="631.0" y="291.0" font-size="7.4" fill="#7e7e7e" textLength="16.0" lengthAdjust="spacingAndGlyphs">10uF</text>
<circle cx="662.6" cy="274.7" r="1.6" fill="#2f8f2f"/>
<line x1="660.7" y1="276.8" x2="660.2" y2="280.2" stroke="#555" stroke-width="0.8"/>
<text x="660.0" y="279.0" font-size="7.2" fill="#7e7e7e" textLength="15.5" lengthAdjust="spacingAndGlyphs">GND</text>
<line x1="662.6" y1="274.7" x2="662.6" y2="317.3" stroke="#5cb85c" stroke-width="0.9"/>
<line x1="662.6" y1="317.3" x2="719.6" y2="317.3" stroke="#5cb85c" stroke-width="0.9"/>
<line x1="719.6" y1="317.3" x2="719.6" y2="309.4" stroke="#5cb85c" stroke-width="0.9"/>
<polyline points="719.6,289.6 719.6,295.4 722.0,297.0 717.2,299.5 722.0,302.0 717.2,304.5 722.0,307.0 719.6,309.4" stroke="#b85a5a" stroke-width="1.1" fill="none"/>
<line x1="719.6" y1="274.0" x2="719.6" y2="289.6" stroke="#5cb85c" stroke-width="0.9"/>
<text transform="translate(715.0,305.5) rotate(-90)" x="0" y="0" font-size="6.2" fill="#7e7e7e" textLength="12.5" lengthAdjust="spacingAndGlyphs">499</text>
<text transform="translate(730.0,302.0) rotate(-90)" x="0" y="0" font-size="6.2" fill="#7e7e7e" textLength="9.0" lengthAdjust="spacingAndGlyphs">R6</text>
<line x1="662.6" y1="274.7" x2="698.5" y2="274.7" stroke="#5cb85c" stroke-width="0.9"/>
<line x1="698.5" y1="274.7" x2="698.5" y2="260.8" stroke="#5cb85c" stroke-width="0.9"/>
<line x1="698.5" y1="260.8" x2="705.0" y2="260.8" stroke="#b85a5a" stroke-width="0.9"/>
<line x1="705.0" y1="254.0" x2="705.0" y2="268.0" stroke="#b85a5a" stroke-width="1.3"/>
<path d="M710.8,254.0 Q706.8,260.8 710.8,268.0" stroke="#b85a5a" stroke-width="1.2" fill="none"/>
<line x1="708.6" y1="260.8" x2="713.0" y2="260.8" stroke="#b85a5a" stroke-width="0.9"/>
<line x1="713.0" y1="260.8" x2="719.6" y2="260.8" stroke="#5cb85c" stroke-width="0.9"/>
<text x="703.0" y="254.0" font-size="7.4" fill="#7e7e7e" textLength="10.0" lengthAdjust="spacingAndGlyphs">C8</text>
<text x="702.0" y="275.0" font-size="7.4" fill="#7e7e7e" textLength="18.0" lengthAdjust="spacingAndGlyphs">10uF</text>
<line x1="719.4" y1="232.2" x2="719.4" y2="267.3" stroke="#5cb85c" stroke-width="0.9"/>
<circle cx="719.5" cy="260.8" r="1.6" fill="#2f8f2f"/>
<path d="M713.0,267.3 L726.0,267.3 L719.6,274.0 Z" stroke="#b04848" stroke-width="1.1" fill="none"/>
<line x1="713.0" y1="274.0" x2="726.0" y2="274.0" stroke="#b04848" stroke-width="1.1"/>
<line x1="711.0" y1="270.5" x2="706.0" y2="275.0" stroke="#b04848" stroke-width="0.9"/>
<line x1="712.0" y1="273.0" x2="707.0" y2="277.5" stroke="#b04848" stroke-width="0.9"/>
<path d="M705.5,275.5 l2,-0.5 l-1,-1.5 Z M706.5,278.0 l2,-0.5 l-1,-1.5 Z" fill="#b04848"/>
<text transform="translate(731.0,282.0) rotate(-90)" x="0" y="0" font-size="6.6" fill="#7e7e7e" textLength="20.0" lengthAdjust="spacingAndGlyphs">LED4</text>
<path d="M279.2 346.2 H290.5 M284.8 340.3 V351.8" stroke="#707070" stroke-width="1"/>
</svg>
<div id="status" class="a"><span>Left-click&amp;drag to define group (or left-click to start defining a group polygon)</span>
 <svg width="14" height="14" style="left:775px;top:0"><path d="M6.5 2.5 L3.5 7 L6.6 7.4 L5.4 12.6 L10.8 7 L7.8 6.6 L9.4 2.5 Z" fill="#5dae2f"/></svg>
</div>
</body></html>
